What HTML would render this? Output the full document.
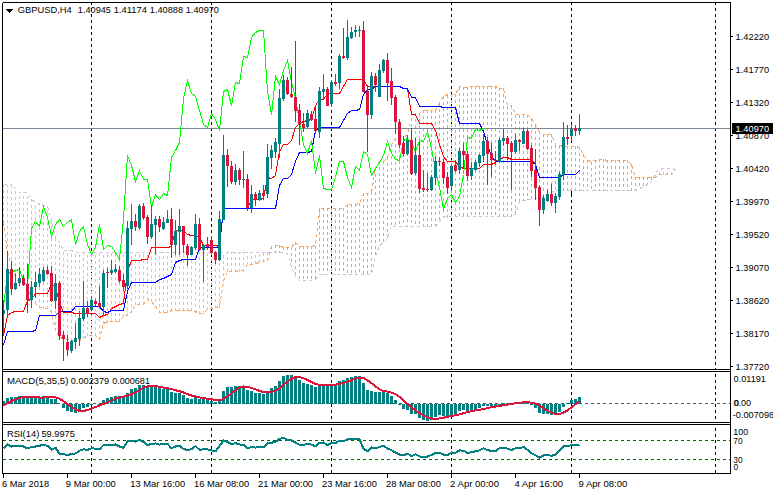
<!DOCTYPE html><html><head><meta charset="utf-8"><style>html,body{margin:0;padding:0;background:#fff;overflow:hidden}</style></head><body><svg width="773" height="495" viewBox="0 0 773 495" style="display:block;font-family:'Liberation Sans',sans-serif">
<rect width="773" height="495" fill="#fff"/>
<defs><clipPath id="cm"><rect x="3" y="3" width="727" height="366"/></clipPath><clipPath id="c2"><rect x="3" y="372" width="727" height="50"/></clipPath><clipPath id="c3"><rect x="3" y="425" width="727" height="48"/></clipPath></defs>
<line x1="91.5" y1="2" x2="91.5" y2="473" stroke="#000" stroke-width="1" stroke-dasharray="3,3" shape-rendering="crispEdges"/>
<line x1="211.5" y1="2" x2="211.5" y2="473" stroke="#000" stroke-width="1" stroke-dasharray="3,3" shape-rendering="crispEdges"/>
<line x1="331.5" y1="2" x2="331.5" y2="473" stroke="#000" stroke-width="1" stroke-dasharray="3,3" shape-rendering="crispEdges"/>
<line x1="451.5" y1="2" x2="451.5" y2="473" stroke="#000" stroke-width="1" stroke-dasharray="3,3" shape-rendering="crispEdges"/>
<line x1="571.5" y1="2" x2="571.5" y2="473" stroke="#000" stroke-width="1" stroke-dasharray="3,3" shape-rendering="crispEdges"/>
<line x1="715.5" y1="2" x2="715.5" y2="473" stroke="#000" stroke-width="1" stroke-dasharray="3,3" shape-rendering="crispEdges"/>
<rect x="3" y="370" width="727" height="1" fill="#fff"/><rect x="3" y="423" width="727" height="1" fill="#fff"/>
<g clip-path="url(#cm)">
<path d="M271.5,246v3M271.5,252v1M275.5,245v3M275.5,251v2M279.5,245v3M279.5,251v2M283.5,247v3M287.5,247v3M287.5,253v1M291.5,247v3M291.5,253v3M291.5,259v3M291.5,265v2M295.5,242v3M295.5,248v3M295.5,254v3M295.5,260v3M295.5,266v3M295.5,272v3M299.5,246v3M299.5,252v3M299.5,258v3M299.5,264v3M299.5,270v3M299.5,276v3M303.5,246v3M303.5,252v3M303.5,258v3M303.5,264v3M303.5,270v3M303.5,276v3M307.5,246v3M307.5,252v3M307.5,258v3M307.5,264v3M307.5,270v3M307.5,276v3M311.5,246v3M311.5,252v3M311.5,258v3M311.5,264v3M311.5,270v3M311.5,276v3M315.5,246v3M315.5,252v3M315.5,258v3M315.5,264v3M315.5,270v3M315.5,276v3M319.5,208v3M319.5,214v3M319.5,220v3M319.5,226v3M319.5,232v3M319.5,238v3M319.5,244v3M319.5,250v3M319.5,256v3M319.5,262v3M319.5,268v3M319.5,274v1M323.5,208v3M323.5,214v3M323.5,220v3M323.5,226v3M323.5,232v3M323.5,238v3M323.5,244v3M323.5,250v3M323.5,256v3M323.5,262v3M323.5,268v3M323.5,274v1M327.5,208v3M327.5,214v3M327.5,220v3M327.5,226v3M327.5,232v3M327.5,238v3M327.5,244v3M327.5,250v3M327.5,256v3M327.5,262v3M327.5,268v3M327.5,274v1M331.5,208v3M331.5,214v3M331.5,220v3M331.5,226v3M331.5,232v3M331.5,238v3M331.5,244v3M331.5,250v3M331.5,256v3M331.5,262v3M331.5,268v3M331.5,274v1M335.5,208v3M335.5,214v3M335.5,220v3M335.5,226v3M335.5,232v3M335.5,238v3M335.5,244v3M335.5,250v3M335.5,256v3M335.5,262v3M335.5,268v3M335.5,274v1M339.5,208v3M339.5,214v3M339.5,220v3M339.5,226v3M339.5,232v3M339.5,238v3M339.5,244v3M339.5,250v3M339.5,256v3M339.5,262v3M339.5,268v3M339.5,274v1M343.5,208v3M343.5,214v3M343.5,220v3M343.5,226v3M343.5,232v3M343.5,238v3M343.5,244v3M343.5,250v3M343.5,256v3M343.5,262v3M343.5,268v3M343.5,274v1M347.5,204v3M347.5,210v3M347.5,216v3M347.5,222v3M347.5,228v3M347.5,234v3M347.5,240v3M347.5,246v3M347.5,252v3M347.5,258v3M347.5,264v3M347.5,270v3M351.5,204v3M351.5,210v3M351.5,216v3M351.5,222v3M351.5,228v3M351.5,234v3M351.5,240v3M351.5,246v3M351.5,252v3M351.5,258v3M351.5,264v3M351.5,270v3M355.5,204v3M355.5,210v3M355.5,216v3M355.5,222v3M355.5,228v3M355.5,234v3M355.5,240v3M355.5,246v3M355.5,252v3M355.5,258v3M355.5,264v3M355.5,270v3M359.5,203v3M359.5,209v3M359.5,215v3M359.5,221v3M359.5,227v3M359.5,233v3M359.5,239v3M359.5,245v3M359.5,251v3M359.5,257v3M359.5,263v3M359.5,269v3M363.5,193v3M363.5,199v3M363.5,205v3M363.5,211v3M363.5,217v3M363.5,223v3M363.5,229v3M363.5,235v3M363.5,241v3M363.5,247v3M363.5,253v3M363.5,259v3M363.5,265v3M363.5,271v3M367.5,193v3M367.5,199v3M367.5,205v3M367.5,211v3M367.5,217v3M367.5,223v3M367.5,229v3M367.5,235v3M367.5,241v3M367.5,247v3M367.5,253v3M367.5,259v3M367.5,265v3M367.5,271v3M371.5,192v3M371.5,198v3M371.5,204v3M371.5,210v3M371.5,216v3M371.5,222v3M371.5,228v3M371.5,234v3M371.5,240v3M371.5,246v3M371.5,252v3M371.5,258v3M371.5,264v3M371.5,270v3M375.5,168v3M375.5,174v3M375.5,180v3M375.5,186v3M375.5,192v3M375.5,198v3M375.5,204v3M375.5,210v3M375.5,216v3M375.5,222v3M375.5,228v3M375.5,234v3M375.5,240v3M375.5,246v3M375.5,252v3M379.5,161v3M379.5,167v3M379.5,173v3M379.5,179v3M379.5,185v3M379.5,191v3M379.5,197v3M379.5,203v3M379.5,209v3M379.5,215v3M379.5,221v3M379.5,227v3M379.5,233v3M379.5,239v3M379.5,245v1M383.5,161v3M383.5,167v3M383.5,173v3M383.5,179v3M383.5,185v3M383.5,191v3M383.5,197v3M383.5,203v3M383.5,209v3M383.5,215v3M383.5,221v3M383.5,227v3M383.5,233v3M383.5,239v3M387.5,157v3M387.5,163v3M387.5,169v3M387.5,175v3M387.5,181v3M387.5,187v3M387.5,193v3M387.5,199v3M387.5,205v3M387.5,211v3M387.5,217v3M387.5,223v3M387.5,229v3M387.5,235v3M391.5,144v3M391.5,150v3M391.5,156v3M391.5,162v3M391.5,168v3M391.5,174v3M391.5,180v3M391.5,186v3M391.5,192v3M391.5,198v3M391.5,204v3M391.5,210v3M391.5,216v3M391.5,222v3M395.5,138v3M395.5,144v3M395.5,150v3M395.5,156v3M395.5,162v3M395.5,168v3M395.5,174v3M395.5,180v3M395.5,186v3M395.5,192v3M395.5,198v3M395.5,204v3M395.5,210v3M395.5,216v3M395.5,222v3M399.5,137v3M399.5,143v3M399.5,149v3M399.5,155v3M399.5,161v3M399.5,167v3M399.5,173v3M399.5,179v3M399.5,185v3M399.5,191v3M399.5,197v3M399.5,203v3M399.5,209v3M399.5,215v3M399.5,221v3M403.5,136v3M403.5,142v3M403.5,148v3M403.5,154v3M403.5,160v3M403.5,166v3M403.5,172v3M403.5,178v3M403.5,184v3M403.5,190v3M403.5,196v3M403.5,202v3M403.5,208v3M403.5,214v3M403.5,220v3M403.5,226v1M407.5,135v3M407.5,141v3M407.5,147v3M407.5,153v3M407.5,159v3M407.5,165v3M407.5,171v3M407.5,177v3M407.5,183v3M407.5,189v3M407.5,195v3M407.5,201v3M407.5,207v3M407.5,213v3M407.5,219v3M407.5,225v2M411.5,118v3M411.5,124v3M411.5,130v3M411.5,136v3M411.5,142v3M411.5,148v3M411.5,154v3M411.5,160v3M411.5,166v3M411.5,172v3M411.5,178v3M411.5,184v3M411.5,190v3M411.5,196v3M411.5,202v3M411.5,208v3M411.5,214v3M411.5,220v3M411.5,226v1M415.5,113v3M415.5,119v3M415.5,125v3M415.5,131v3M415.5,137v3M415.5,143v3M415.5,149v3M415.5,155v3M415.5,161v3M415.5,167v3M415.5,173v3M415.5,179v3M415.5,185v3M415.5,191v3M415.5,197v3M415.5,203v3M415.5,209v3M415.5,215v3M415.5,221v3M419.5,113v3M419.5,119v3M419.5,125v3M419.5,131v3M419.5,137v3M419.5,143v3M419.5,149v3M419.5,155v3M419.5,161v3M419.5,167v3M419.5,173v3M419.5,179v3M419.5,185v3M419.5,191v3M419.5,197v3M419.5,203v3M419.5,209v3M419.5,215v3M419.5,221v3M423.5,110v3M423.5,116v3M423.5,122v3M423.5,128v3M423.5,134v3M423.5,140v3M423.5,146v3M423.5,152v3M423.5,158v3M423.5,164v3M423.5,170v3M423.5,176v3M423.5,182v3M423.5,188v3M423.5,194v3M423.5,200v3M423.5,206v3M423.5,212v3M423.5,218v3M423.5,224v3M427.5,110v3M427.5,116v3M427.5,122v3M427.5,128v3M427.5,134v3M427.5,140v3M427.5,146v3M427.5,152v3M427.5,158v3M427.5,164v3M427.5,170v3M427.5,176v3M427.5,182v3M427.5,188v3M427.5,194v3M427.5,200v3M427.5,206v3M427.5,212v3M427.5,218v3M427.5,224v3M431.5,110v3M431.5,116v3M431.5,122v3M431.5,128v3M431.5,134v3M431.5,140v3M431.5,146v3M431.5,152v3M431.5,158v3M431.5,164v3M431.5,170v3M431.5,176v3M431.5,182v3M431.5,188v3M431.5,194v3M431.5,200v3M431.5,206v3M431.5,212v3M431.5,218v3M431.5,224v3M435.5,110v3M435.5,116v3M435.5,122v3M435.5,128v3M435.5,134v3M435.5,140v3M435.5,146v3M435.5,152v3M435.5,158v3M435.5,164v3M435.5,170v3M435.5,176v3M435.5,182v3M435.5,188v3M435.5,194v3M435.5,200v3M435.5,206v3M435.5,212v3M435.5,218v3M435.5,224v3M439.5,103v3M439.5,109v3M439.5,115v3M439.5,121v3M439.5,127v3M439.5,133v3M439.5,139v3M439.5,145v3M439.5,151v3M439.5,157v3M439.5,163v3M439.5,169v3M439.5,175v3M439.5,181v3M439.5,187v3M439.5,193v3M439.5,199v3M439.5,205v3M439.5,211v3M439.5,217v3M443.5,96v3M443.5,102v3M443.5,108v3M443.5,114v3M443.5,120v3M443.5,126v3M443.5,132v3M443.5,138v3M443.5,144v3M443.5,150v3M443.5,156v3M443.5,162v3M443.5,168v3M443.5,174v3M443.5,180v3M443.5,186v3M443.5,192v3M443.5,198v3M443.5,204v3M443.5,210v3M443.5,216v2M447.5,95v3M447.5,101v3M447.5,107v3M447.5,113v3M447.5,119v3M447.5,125v3M447.5,131v3M447.5,137v3M447.5,143v3M447.5,149v3M447.5,155v3M447.5,161v3M447.5,167v3M447.5,173v3M447.5,179v3M447.5,185v3M447.5,191v3M447.5,197v3M447.5,203v3M447.5,209v3M447.5,215v3M451.5,94v3M451.5,100v3M451.5,106v3M451.5,112v3M451.5,118v3M451.5,124v3M451.5,130v3M451.5,136v3M451.5,142v3M451.5,148v3M451.5,154v3M451.5,160v3M451.5,166v3M451.5,172v3M451.5,178v3M451.5,184v3M451.5,190v3M451.5,196v3M451.5,202v3M451.5,208v3M451.5,214v3M455.5,94v3M455.5,100v3M455.5,106v3M455.5,112v3M455.5,118v3M455.5,124v3M455.5,130v3M455.5,136v3M455.5,142v3M455.5,148v3M455.5,154v3M455.5,160v3M455.5,166v3M455.5,172v3M455.5,178v3M455.5,184v3M455.5,190v3M455.5,196v3M455.5,202v3M455.5,208v3M455.5,214v3M459.5,87v3M459.5,93v3M459.5,99v3M459.5,105v3M459.5,111v3M459.5,117v3M459.5,123v3M459.5,129v3M459.5,135v3M459.5,141v3M459.5,147v3M459.5,153v3M459.5,159v3M459.5,165v3M459.5,171v3M459.5,177v3M459.5,183v3M459.5,189v3M459.5,195v3M459.5,201v3M459.5,207v3M459.5,213v3M463.5,87v3M463.5,93v3M463.5,99v3M463.5,105v3M463.5,111v3M463.5,117v3M463.5,123v3M463.5,129v3M463.5,135v3M463.5,141v3M463.5,147v3M463.5,153v3M463.5,159v3M463.5,165v3M463.5,171v3M463.5,177v3M463.5,183v3M463.5,189v3M463.5,195v3M463.5,201v3M463.5,207v3M463.5,213v3M467.5,87v3M467.5,93v3M467.5,99v3M467.5,105v3M467.5,111v3M467.5,117v3M467.5,123v3M467.5,129v3M467.5,135v3M467.5,141v3M467.5,147v3M467.5,153v3M467.5,159v3M467.5,165v3M467.5,171v3M467.5,177v3M467.5,183v3M467.5,189v3M467.5,195v3M467.5,201v3M467.5,207v3M467.5,213v3M471.5,86v3M471.5,92v3M471.5,98v3M471.5,104v3M471.5,110v3M471.5,116v3M471.5,122v3M471.5,128v3M471.5,134v3M471.5,140v3M471.5,146v3M471.5,152v3M471.5,158v3M471.5,164v3M471.5,170v3M471.5,176v3M471.5,182v3M471.5,188v3M471.5,194v3M471.5,200v3M471.5,206v3M471.5,212v3M475.5,86v3M475.5,92v3M475.5,98v3M475.5,104v3M475.5,110v3M475.5,116v3M475.5,122v3M475.5,128v3M475.5,134v3M475.5,140v3M475.5,146v3M475.5,152v3M475.5,158v3M475.5,164v3M475.5,170v3M475.5,176v3M475.5,182v3M475.5,188v3M475.5,194v3M475.5,200v3M475.5,206v3M475.5,212v3M479.5,86v3M479.5,92v3M479.5,98v3M479.5,104v3M479.5,110v3M479.5,116v3M479.5,122v3M479.5,128v3M479.5,134v3M479.5,140v3M479.5,146v3M479.5,152v3M479.5,158v3M479.5,164v3M479.5,170v3M479.5,176v3M479.5,182v3M479.5,188v3M479.5,194v3M479.5,200v3M479.5,206v3M479.5,212v3M483.5,86v3M483.5,92v3M483.5,98v3M483.5,104v3M483.5,110v3M483.5,116v3M483.5,122v3M483.5,128v3M483.5,134v3M483.5,140v3M483.5,146v3M483.5,152v3M483.5,158v3M483.5,164v3M483.5,170v3M483.5,176v3M483.5,182v3M483.5,188v3M483.5,194v3M483.5,200v3M483.5,206v3M483.5,212v3M487.5,86v3M487.5,92v3M487.5,98v3M487.5,104v3M487.5,110v3M487.5,116v3M487.5,122v3M487.5,128v3M487.5,134v3M487.5,140v3M487.5,146v3M487.5,152v3M487.5,158v3M487.5,164v3M487.5,170v3M487.5,176v3M487.5,182v3M487.5,188v3M487.5,194v3M487.5,200v3M487.5,206v3M487.5,212v3M491.5,86v3M491.5,92v3M491.5,98v3M491.5,104v3M491.5,110v3M491.5,116v3M491.5,122v3M491.5,128v3M491.5,134v3M491.5,140v3M491.5,146v3M491.5,152v3M491.5,158v3M491.5,164v3M491.5,170v3M491.5,176v3M491.5,182v3M491.5,188v3M491.5,194v3M491.5,200v3M491.5,206v3M491.5,212v3M495.5,86v3M495.5,92v3M495.5,98v3M495.5,104v3M495.5,110v3M495.5,116v3M495.5,122v3M495.5,128v3M495.5,134v3M495.5,140v3M495.5,146v3M495.5,152v3M495.5,158v3M495.5,164v3M495.5,170v3M495.5,176v3M495.5,182v3M495.5,188v3M495.5,194v3M495.5,200v3M495.5,206v3M495.5,212v3M499.5,88v3M499.5,94v3M499.5,100v3M499.5,106v3M499.5,112v3M499.5,118v3M499.5,124v3M499.5,130v3M499.5,136v3M499.5,142v3M499.5,148v3M499.5,154v3M499.5,160v3M499.5,166v3M499.5,172v3M499.5,178v3M499.5,184v3M499.5,190v3M499.5,196v3M499.5,202v3M499.5,208v3M499.5,214v3M503.5,88v3M503.5,94v3M503.5,100v3M503.5,106v3M503.5,112v3M503.5,118v3M503.5,124v3M503.5,130v3M503.5,136v3M503.5,142v3M503.5,148v3M503.5,154v3M503.5,160v3M503.5,166v3M503.5,172v3M503.5,178v3M503.5,184v3M503.5,190v3M503.5,196v3M503.5,202v3M503.5,208v3M503.5,214v3M507.5,106v3M507.5,112v3M507.5,118v3M507.5,124v3M507.5,130v3M507.5,136v3M507.5,142v3M507.5,148v3M507.5,154v3M507.5,160v3M507.5,166v3M507.5,172v3M507.5,178v3M507.5,184v3M507.5,190v3M507.5,196v3M507.5,202v3M507.5,208v3M507.5,214v3M511.5,106v3M511.5,112v3M511.5,118v3M511.5,124v3M511.5,130v3M511.5,136v3M511.5,142v3M511.5,148v3M511.5,154v3M511.5,160v3M511.5,166v3M511.5,172v3M511.5,178v3M511.5,184v3M511.5,190v3M511.5,196v3M511.5,202v3M511.5,208v3M511.5,214v3M515.5,115v3M515.5,121v3M515.5,127v3M515.5,133v3M515.5,139v3M515.5,145v3M515.5,151v3M515.5,157v3M515.5,163v3M515.5,169v3M515.5,175v3M515.5,181v3M515.5,187v3M515.5,193v3M515.5,199v3M515.5,205v3M515.5,211v3M519.5,115v3M519.5,121v3M519.5,127v3M519.5,133v3M519.5,139v3M519.5,145v3M519.5,151v3M519.5,157v3M519.5,163v3M519.5,169v3M519.5,175v3M519.5,181v3M519.5,187v3M519.5,193v3M519.5,199v3M523.5,115v3M523.5,121v3M523.5,127v3M523.5,133v3M523.5,139v3M523.5,145v3M523.5,151v3M523.5,157v3M523.5,163v3M523.5,169v3M523.5,175v3M523.5,181v3M523.5,187v3M523.5,193v3M523.5,199v2M527.5,115v3M527.5,121v3M527.5,127v3M527.5,133v3M527.5,139v3M527.5,145v3M527.5,151v3M527.5,157v3M527.5,163v3M527.5,169v3M527.5,175v3M527.5,181v3M527.5,187v3M527.5,193v3M527.5,199v1M531.5,118v3M531.5,124v3M531.5,130v3M531.5,136v3M531.5,142v3M531.5,148v3M531.5,154v3M531.5,160v3M531.5,166v3M531.5,172v3M531.5,178v3M531.5,184v3M531.5,190v3M531.5,196v3M535.5,125v3M535.5,131v3M535.5,137v3M535.5,143v3M535.5,149v3M535.5,155v3M535.5,161v3M535.5,167v3M535.5,173v3M535.5,179v3M535.5,185v3M535.5,191v3M535.5,197v3M539.5,131v3M539.5,137v3M539.5,143v3M539.5,149v3M539.5,155v3M539.5,161v3M539.5,167v3M539.5,173v3M539.5,179v3M539.5,185v3M539.5,191v3M539.5,197v2M543.5,134v3M543.5,140v3M543.5,146v3M543.5,152v3M543.5,158v3M543.5,164v3M543.5,170v3M543.5,176v3M543.5,182v3M543.5,188v3M543.5,194v3M547.5,134v3M547.5,140v3M547.5,146v3M547.5,152v3M547.5,158v3M547.5,164v3M547.5,170v3M547.5,176v3M547.5,182v3M547.5,188v3M547.5,194v1M551.5,134v3M551.5,140v3M551.5,146v3M551.5,152v3M551.5,158v3M551.5,164v3M551.5,170v3M551.5,176v3M551.5,182v3M551.5,188v3M555.5,145v3M555.5,151v3M555.5,157v3M555.5,163v3M555.5,169v3M555.5,175v3M555.5,181v3M555.5,187v3M559.5,146v3M559.5,152v3M559.5,158v3M559.5,164v3M559.5,170v3M559.5,176v3M559.5,182v3M559.5,188v3M563.5,146v3M563.5,152v3M563.5,158v3M563.5,164v3M563.5,170v3M563.5,176v3M563.5,182v3M563.5,188v3M567.5,146v3M567.5,152v3M567.5,158v3M567.5,164v3M567.5,170v3M567.5,176v3M567.5,182v3M567.5,188v3M571.5,146v3M571.5,152v3M571.5,158v3M571.5,164v3M571.5,170v3M571.5,176v3M571.5,182v3M571.5,188v3M575.5,146v3M575.5,152v3M575.5,158v3M575.5,164v3M575.5,170v3M575.5,176v3M575.5,182v3M575.5,188v3M579.5,147v3M579.5,153v3M579.5,159v3M579.5,165v3M579.5,171v3M579.5,177v3M579.5,183v3M579.5,189v2M583.5,154v3M583.5,160v3M583.5,166v3M583.5,172v3M583.5,178v3M583.5,184v3M583.5,190v1M587.5,160v3M587.5,166v3M587.5,172v3M587.5,178v3M587.5,184v3M587.5,190v1M591.5,162v3M591.5,168v3M591.5,174v3M591.5,180v3M591.5,186v3M595.5,160v3M595.5,166v3M595.5,172v3M595.5,178v3M595.5,184v3M595.5,190v1M599.5,159v3M599.5,165v3M599.5,171v3M599.5,177v3M599.5,183v3M599.5,189v2M603.5,159v3M603.5,165v3M603.5,171v3M603.5,177v3M603.5,183v3M603.5,189v2M607.5,160v3M607.5,166v3M607.5,172v3M607.5,178v3M607.5,184v3M607.5,190v1M611.5,160v3M611.5,166v3M611.5,172v3M611.5,178v3M611.5,184v3M611.5,190v1M615.5,160v3M615.5,166v3M615.5,172v3M615.5,178v3M615.5,184v3M615.5,190v1M619.5,160v3M619.5,166v3M619.5,172v3M619.5,178v3M619.5,184v3M619.5,190v1M623.5,160v3M623.5,166v3M623.5,172v3M623.5,178v3M623.5,184v3M623.5,190v1M627.5,160v3M627.5,166v3M627.5,172v3M627.5,178v3M627.5,184v3M627.5,190v1M631.5,164v3M631.5,170v3M631.5,176v3M631.5,182v3M631.5,188v3M635.5,177v3M635.5,183v3M635.5,189v2M639.5,177v3M639.5,183v3M643.5,177v3M643.5,183v3M647.5,177v3M647.5,183v2M651.5,177v3" fill="none" stroke="#f4a460" stroke-width="1" shape-rendering="crispEdges"/>
<path d="M3.5,220v3M3.5,214v3M3.5,208v3M3.5,202v3M3.5,196v3M3.5,190v3M3.5,185v2M7.5,250v3M7.5,244v3M7.5,238v3M7.5,232v3M7.5,226v3M7.5,220v3M7.5,214v3M7.5,208v3M7.5,202v3M7.5,196v3M7.5,190v3M7.5,185v2M11.5,263v3M11.5,257v3M11.5,251v3M11.5,245v3M11.5,239v3M11.5,233v3M11.5,227v3M11.5,221v3M11.5,215v3M11.5,209v3M11.5,203v3M11.5,197v3M11.5,191v3M11.5,185v3M15.5,275v3M15.5,269v3M15.5,263v3M15.5,257v3M15.5,251v3M15.5,245v3M15.5,239v3M15.5,233v3M15.5,227v3M15.5,221v3M15.5,215v3M15.5,209v3M15.5,203v3M15.5,197v3M15.5,191v3M19.5,280v3M19.5,274v3M19.5,268v3M19.5,262v3M19.5,256v3M19.5,250v3M19.5,244v3M19.5,238v3M19.5,232v3M19.5,226v3M19.5,220v3M19.5,214v3M19.5,208v3M19.5,202v3M19.5,196v3M19.5,192v1M23.5,280v3M23.5,274v3M23.5,268v3M23.5,262v3M23.5,256v3M23.5,250v3M23.5,244v3M23.5,238v3M23.5,232v3M23.5,226v3M23.5,220v3M23.5,214v3M23.5,208v3M23.5,202v3M23.5,196v3M23.5,192v1M27.5,286v3M27.5,280v3M27.5,274v3M27.5,268v3M27.5,262v3M27.5,256v3M27.5,250v3M27.5,244v3M27.5,238v3M27.5,232v3M27.5,226v3M27.5,220v3M27.5,214v3M27.5,208v3M27.5,202v3M27.5,196v3M31.5,295v3M31.5,289v3M31.5,283v3M31.5,277v3M31.5,271v3M31.5,265v3M31.5,259v3M31.5,253v3M31.5,247v3M31.5,241v3M31.5,235v3M31.5,229v3M31.5,223v3M31.5,217v3M31.5,211v3M31.5,205v3M31.5,199v3M35.5,301v3M35.5,295v3M35.5,289v3M35.5,283v3M35.5,277v3M35.5,271v3M35.5,265v3M35.5,259v3M35.5,253v3M35.5,247v3M35.5,241v3M35.5,235v3M35.5,229v3M35.5,223v3M35.5,217v3M35.5,211v3M35.5,205v3M39.5,305v3M39.5,299v3M39.5,293v3M39.5,287v3M39.5,281v3M39.5,275v3M39.5,269v3M39.5,263v3M39.5,257v3M39.5,251v3M39.5,245v3M39.5,239v3M39.5,233v3M39.5,227v3M39.5,221v3M39.5,215v3M39.5,209v3M39.5,204v2M43.5,306v3M43.5,300v3M43.5,294v3M43.5,288v3M43.5,282v3M43.5,276v3M43.5,270v3M43.5,264v3M43.5,258v3M43.5,252v3M43.5,246v3M43.5,240v3M43.5,234v3M43.5,228v3M43.5,222v3M43.5,216v3M43.5,210v3M43.5,206v1M47.5,306v3M47.5,300v3M47.5,294v3M47.5,288v3M47.5,282v3M47.5,276v3M47.5,270v3M47.5,264v3M47.5,258v3M47.5,252v3M47.5,246v3M47.5,240v3M47.5,234v3M47.5,228v3M47.5,222v3M47.5,216v3M47.5,210v3M47.5,206v1M51.5,310v3M51.5,304v3M51.5,298v3M51.5,292v3M51.5,286v3M51.5,280v3M51.5,274v3M51.5,268v3M51.5,262v3M51.5,256v3M51.5,250v3M51.5,244v3M51.5,238v3M51.5,232v3M51.5,226v3M51.5,220v3M55.5,328v3M55.5,322v3M55.5,316v3M55.5,310v3M55.5,304v3M55.5,298v3M55.5,292v3M55.5,286v3M55.5,280v3M55.5,274v3M55.5,268v3M55.5,262v3M55.5,256v3M55.5,250v3M55.5,244v3M55.5,238v3M59.5,335v3M59.5,329v3M59.5,323v3M59.5,317v3M59.5,311v3M59.5,305v3M59.5,299v3M59.5,293v3M59.5,287v3M59.5,281v3M59.5,275v3M59.5,269v3M59.5,263v3M59.5,257v3M59.5,251v3M59.5,245v3M63.5,336v3M63.5,330v3M63.5,324v3M63.5,318v3M63.5,312v3M63.5,306v3M63.5,300v3M63.5,294v3M63.5,288v3M63.5,282v3M63.5,276v3M63.5,270v3M63.5,264v3M63.5,258v3M63.5,252v3M67.5,337v3M67.5,331v3M67.5,325v3M67.5,319v3M67.5,313v3M67.5,307v3M67.5,301v3M67.5,295v3M67.5,289v3M67.5,283v3M67.5,277v3M67.5,271v3M67.5,265v3M67.5,259v3M67.5,253v3M71.5,338v3M71.5,332v3M71.5,326v3M71.5,320v3M71.5,314v3M71.5,308v3M71.5,302v3M71.5,296v3M71.5,290v3M71.5,284v3M71.5,278v3M71.5,272v3M71.5,266v3M71.5,260v3M71.5,254v3M75.5,338v3M75.5,332v3M75.5,326v3M75.5,320v3M75.5,314v3M75.5,308v3M75.5,302v3M75.5,296v3M75.5,290v3M75.5,284v3M75.5,278v3M75.5,272v3M75.5,266v3M75.5,260v3M75.5,254v3M79.5,338v3M79.5,332v3M79.5,326v3M79.5,320v3M79.5,314v3M79.5,308v3M79.5,302v3M79.5,296v3M79.5,290v3M79.5,284v3M79.5,278v3M79.5,272v3M79.5,266v3M79.5,260v3M79.5,254v3M83.5,336v3M83.5,330v3M83.5,324v3M83.5,318v3M83.5,312v3M83.5,306v3M83.5,300v3M83.5,294v3M83.5,288v3M83.5,282v3M83.5,276v3M83.5,270v3M83.5,264v3M83.5,258v3M83.5,252v3M87.5,333v3M87.5,327v3M87.5,321v3M87.5,315v3M87.5,309v3M87.5,303v3M87.5,297v3M87.5,291v3M87.5,285v3M87.5,279v3M87.5,273v3M87.5,267v3M87.5,261v3M87.5,255v3M91.5,333v3M91.5,327v3M91.5,321v3M91.5,315v3M91.5,309v3M91.5,303v3M91.5,297v3M91.5,291v3M91.5,285v3M91.5,279v3M91.5,273v3M91.5,267v3M91.5,261v3M91.5,255v3M95.5,333v3M95.5,327v3M95.5,321v3M95.5,315v3M95.5,309v3M95.5,303v3M95.5,297v3M95.5,291v3M95.5,285v3M95.5,279v3M95.5,273v3M95.5,267v3M95.5,261v3M95.5,255v3M99.5,337v3M99.5,331v3M99.5,325v3M99.5,319v3M99.5,313v3M99.5,307v3M99.5,301v3M99.5,295v3M99.5,289v3M99.5,283v3M99.5,277v3M99.5,271v3M99.5,265v3M99.5,259v3M99.5,253v3M103.5,321v3M103.5,315v3M103.5,309v3M103.5,303v3M103.5,297v3M103.5,291v3M103.5,285v3M103.5,279v3M103.5,273v3M103.5,267v3M103.5,261v3M103.5,255v3M107.5,320v3M107.5,314v3M107.5,308v3M107.5,302v3M107.5,296v3M107.5,290v3M107.5,284v3M107.5,278v3M107.5,272v3M107.5,266v3M107.5,260v3M107.5,254v3M111.5,319v3M111.5,313v3M111.5,307v3M111.5,301v3M111.5,295v3M111.5,289v3M111.5,283v3M111.5,277v3M111.5,271v3M111.5,265v3M111.5,259v3M111.5,253v3M115.5,319v3M115.5,313v3M115.5,307v3M115.5,301v3M115.5,295v3M115.5,289v3M115.5,283v3M115.5,277v3M115.5,271v3M115.5,265v3M115.5,259v3M115.5,253v3M119.5,319v3M119.5,313v3M119.5,307v3M119.5,301v3M119.5,295v3M119.5,289v3M119.5,283v3M119.5,277v3M119.5,271v3M119.5,265v3M119.5,259v3M119.5,253v3M123.5,314v3M123.5,308v3M123.5,302v3M123.5,296v3M123.5,290v3M123.5,284v3M123.5,278v3M123.5,272v3M123.5,266v3M123.5,260v3M123.5,254v3M127.5,313v3M127.5,307v3M127.5,301v3M127.5,295v3M127.5,289v3M127.5,283v3M127.5,277v3M127.5,271v3M127.5,265v3M127.5,259v3M127.5,253v3M131.5,310v3M131.5,304v3M131.5,298v3M131.5,292v3M131.5,286v3M131.5,280v3M131.5,274v3M131.5,268v3M131.5,262v3M131.5,256v3M131.5,252v1M135.5,302v3M135.5,296v3M135.5,290v3M135.5,284v3M135.5,278v3M135.5,272v3M135.5,266v3M135.5,260v3M135.5,254v3M139.5,302v3M139.5,296v3M139.5,290v3M139.5,284v3M139.5,278v3M139.5,272v3M139.5,266v3M139.5,260v3M139.5,254v3M143.5,302v3M143.5,296v3M143.5,290v3M143.5,284v3M143.5,278v3M143.5,272v3M143.5,266v3M143.5,260v3M143.5,254v3M147.5,297v3M147.5,291v3M147.5,285v3M147.5,279v3M147.5,273v3M147.5,267v3M147.5,261v3M147.5,255v3M151.5,299v3M151.5,293v3M151.5,287v3M151.5,281v3M151.5,275v3M151.5,269v3M151.5,263v3M151.5,257v3M151.5,252v2M155.5,305v3M155.5,299v3M155.5,293v3M155.5,287v3M155.5,281v3M155.5,275v3M155.5,269v3M155.5,263v3M155.5,257v3M155.5,252v2M159.5,310v3M159.5,304v3M159.5,298v3M159.5,292v3M159.5,286v3M159.5,280v3M159.5,274v3M159.5,268v3M159.5,262v3M159.5,256v3M159.5,252v1M163.5,310v3M163.5,304v3M163.5,298v3M163.5,292v3M163.5,286v3M163.5,280v3M163.5,274v3M163.5,268v3M163.5,262v3M163.5,256v3M163.5,252v1M167.5,310v3M167.5,304v3M167.5,298v3M167.5,292v3M167.5,286v3M167.5,280v3M167.5,274v3M167.5,268v3M167.5,262v3M167.5,256v3M167.5,252v1M171.5,308v3M171.5,302v3M171.5,296v3M171.5,290v3M171.5,284v3M171.5,278v3M171.5,272v3M171.5,266v3M171.5,260v3M171.5,254v3M175.5,308v3M175.5,302v3M175.5,296v3M175.5,290v3M175.5,284v3M175.5,278v3M175.5,272v3M175.5,266v3M175.5,260v3M175.5,254v3M179.5,308v3M179.5,302v3M179.5,296v3M179.5,290v3M179.5,284v3M179.5,278v3M179.5,272v3M179.5,266v3M179.5,260v3M179.5,254v3M183.5,308v3M183.5,302v3M183.5,296v3M183.5,290v3M183.5,284v3M183.5,278v3M183.5,272v3M183.5,266v3M183.5,260v3M183.5,254v3M187.5,308v3M187.5,302v3M187.5,296v3M187.5,290v3M187.5,284v3M187.5,278v3M187.5,272v3M187.5,266v3M187.5,260v3M187.5,254v3M191.5,308v3M191.5,302v3M191.5,296v3M191.5,290v3M191.5,284v3M191.5,278v3M191.5,272v3M191.5,266v3M191.5,260v3M191.5,254v3M195.5,310v3M195.5,304v3M195.5,298v3M195.5,292v3M195.5,286v3M195.5,280v3M195.5,274v3M195.5,268v3M195.5,262v3M195.5,256v3M195.5,252v1M199.5,311v3M199.5,305v3M199.5,299v3M199.5,293v3M199.5,287v3M199.5,281v3M199.5,275v3M199.5,269v3M199.5,263v3M199.5,257v3M199.5,252v2M203.5,311v3M203.5,305v3M203.5,299v3M203.5,293v3M203.5,287v3M203.5,281v3M203.5,275v3M203.5,269v3M203.5,263v3M203.5,257v3M203.5,252v2M207.5,307v3M207.5,301v3M207.5,295v3M207.5,289v3M207.5,283v3M207.5,277v3M207.5,271v3M207.5,265v3M207.5,259v3M207.5,253v3M211.5,306v3M211.5,300v3M211.5,294v3M211.5,288v3M211.5,282v3M211.5,276v3M211.5,270v3M211.5,264v3M211.5,258v3M211.5,252v3M215.5,305v3M215.5,299v3M215.5,293v3M215.5,287v3M215.5,281v3M215.5,275v3M215.5,269v3M215.5,263v3M215.5,257v3M215.5,252v2M219.5,305v3M219.5,299v3M219.5,293v3M219.5,287v3M219.5,281v3M219.5,275v3M219.5,269v3M219.5,263v3M219.5,257v3M219.5,252v2M223.5,279v3M223.5,273v3M223.5,267v3M223.5,261v3M223.5,255v3M227.5,269v3M227.5,263v3M227.5,257v3M227.5,252v2M231.5,269v3M231.5,263v3M231.5,257v3M231.5,252v2M235.5,269v3M235.5,263v3M235.5,257v3M235.5,252v2M239.5,269v3M239.5,263v3M239.5,257v3M239.5,252v2M243.5,269v3M243.5,263v3M243.5,257v3M243.5,252v2M247.5,262v3M247.5,256v3M247.5,252v1M251.5,262v3M251.5,256v3M251.5,252v1M255.5,261v3M255.5,255v3M259.5,260v3M259.5,254v3M263.5,259v3M263.5,253v3M267.5,258v3M267.5,252v3M655.5,175v3M659.5,172v3M663.5,172v3M667.5,172v3M671.5,172v3M675.5,169v2" fill="none" stroke="#d8bfd8" stroke-width="1" shape-rendering="crispEdges"/>
<polyline points="3.5,222.5 7.5,252.5 11.5,265.5 15.5,277.5 19.5,282.5 23.5,282.5 27.5,288.5 31.5,297.5 35.5,303.5 39.5,307.5 43.5,308.5 47.5,308.5 51.5,312.5 55.5,330.5 59.5,337.5 63.5,338.5 67.5,339.5 71.5,340.5 75.5,340.5 79.5,340.5 83.5,338.5 87.5,335.5 91.5,335.5 95.5,335.5 99.5,339.5 103.5,323.5 107.5,321.5 111.5,321.5 115.5,321.5 119.5,321.5 123.5,315.5 127.5,315.5 131.5,311.5 135.5,304.5 139.5,304.5 143.5,304.5 147.5,299.5 151.5,301.5 155.5,306.5 159.5,312.5 163.5,312.5 167.5,312.5 171.5,310.5 175.5,310.5 179.5,310.5 183.5,310.5 187.5,310.5 191.5,310.5 195.5,311.5 199.5,313.5 203.5,313.5 207.5,309.5 211.5,308.5 215.5,307.5 219.5,306.5 223.5,281.5 227.5,271.5 231.5,271.5 235.5,271.5 239.5,270.5 243.5,270.5 247.5,264.5 251.5,264.5 255.5,263.5 259.5,262.5 263.5,261.5 267.5,260.5 271.5,246.5 275.5,245.5 279.5,245.5 283.5,247.5 287.5,247.5 291.5,247.5 295.5,242.5 299.5,246.5 303.5,246.5 307.5,246.5 311.5,246.5 315.5,245.5 319.5,208.5 323.5,208.5 327.5,208.5 331.5,208.5 335.5,208.5 339.5,208.5 343.5,208.5 347.5,204.5 351.5,204.5 355.5,204.5 359.5,203.5 363.5,193.5 367.5,193.5 371.5,192.5 375.5,168.5 379.5,161.5 383.5,161.5 387.5,157.5 391.5,144.5 395.5,138.5 399.5,136.5 403.5,136.5 407.5,135.5 411.5,117.5 415.5,113.5 419.5,113.5 423.5,110.5 427.5,110.5 431.5,110.5 435.5,110.5 439.5,103.5 443.5,96.5 447.5,94.5 451.5,94.5 455.5,94.5 459.5,86.5 463.5,87.5 467.5,87.5 471.5,86.5 475.5,86.5 479.5,86.5 483.5,86.5 487.5,86.5 491.5,86.5 495.5,86.5 499.5,88.5 503.5,88.5 507.5,105.5 511.5,105.5 515.5,114.5 519.5,114.5 523.5,114.5 527.5,114.5 531.5,118.5 535.5,125.5 539.5,131.5 543.5,134.5 547.5,134.5 551.5,134.5 555.5,144.5 559.5,145.5 563.5,146.5 567.5,146.5 571.5,146.5 575.5,146.5 579.5,147.5 583.5,154.5 587.5,160.5 591.5,161.5 595.5,160.5 599.5,159.5 603.5,159.5 607.5,160.5 611.5,160.5 615.5,160.5 619.5,160.5 623.5,160.5 627.5,160.5 631.5,164.5 635.5,177.5 639.5,177.5 643.5,177.5 647.5,177.5 651.5,177.5 655.5,177.5 659.5,174.5 663.5,174.5 667.5,174.5 671.5,174.5 675.5,170.5" fill="none" stroke="#f4a460" stroke-width="1" stroke-dasharray="3,3" shape-rendering="crispEdges"/>
<polyline points="3.5,184.5 7.5,184.5 11.5,184.5 15.5,188.5 19.5,192.5 23.5,192.5 27.5,192.5 31.5,198.5 35.5,203.5 39.5,203.5 43.5,205.5 47.5,206.5 51.5,219.5 55.5,238.5 59.5,242.5 63.5,250.5 67.5,250.5 71.5,250.5 75.5,252.5 79.5,252.5 83.5,252.5 87.5,252.5 91.5,252.5 95.5,252.5 99.5,252.5 103.5,252.5 107.5,252.5 111.5,252.5 115.5,252.5 119.5,252.5 123.5,252.5 127.5,252.5 131.5,252.5 135.5,252.5 139.5,252.5 143.5,252.5 147.5,252.5 151.5,252.5 155.5,252.5 159.5,252.5 163.5,252.5 167.5,252.5 171.5,252.5 175.5,252.5 179.5,252.5 183.5,252.5 187.5,252.5 191.5,252.5 195.5,252.5 199.5,252.5 203.5,252.5 207.5,252.5 211.5,252.5 215.5,252.5 219.5,252.5 223.5,252.5 227.5,252.5 231.5,252.5 235.5,252.5 239.5,252.5 243.5,252.5 247.5,252.5 251.5,252.5 255.5,252.5 259.5,252.5 263.5,252.5 267.5,252.5 271.5,252.5 275.5,252.5 279.5,252.5 283.5,252.5 287.5,253.5 291.5,266.5 295.5,277.5 299.5,280.5 303.5,280.5 307.5,280.5 311.5,280.5 315.5,279.5 319.5,274.5 323.5,274.5 327.5,274.5 331.5,274.5 335.5,274.5 339.5,274.5 343.5,274.5 347.5,274.5 351.5,274.5 355.5,274.5 359.5,274.5 363.5,274.5 367.5,274.5 371.5,274.5 375.5,256.5 379.5,245.5 383.5,242.5 387.5,238.5 391.5,226.5 395.5,226.5 399.5,226.5 403.5,226.5 407.5,226.5 411.5,226.5 415.5,226.5 419.5,226.5 423.5,226.5 427.5,226.5 431.5,226.5 435.5,226.5 439.5,221.5 443.5,216.5 447.5,216.5 451.5,216.5 455.5,216.5 459.5,216.5 463.5,216.5 467.5,216.5 471.5,216.5 475.5,216.5 479.5,216.5 483.5,216.5 487.5,216.5 491.5,216.5 495.5,216.5 499.5,216.5 503.5,216.5 507.5,216.5 511.5,216.5 515.5,214.5 519.5,201.5 523.5,200.5 527.5,199.5 531.5,199.5 535.5,198.5 539.5,198.5 543.5,196.5 547.5,194.5 551.5,192.5 555.5,190.5 559.5,190.5 563.5,190.5 567.5,190.5 571.5,190.5 575.5,190.5 579.5,190.5 583.5,190.5 587.5,190.5 591.5,190.5 595.5,190.5 599.5,190.5 603.5,190.5 607.5,190.5 611.5,190.5 615.5,190.5 619.5,190.5 623.5,190.5 627.5,190.5 631.5,190.5 635.5,190.5 639.5,188.5 643.5,186.5 647.5,184.5 651.5,182.5 655.5,172.5 659.5,169.5 663.5,168.5 667.5,168.5 671.5,168.5 675.5,169.5" fill="none" stroke="#d8bfd8" stroke-width="1" stroke-dasharray="3,3" shape-rendering="crispEdges"/>
<rect x="571" y="191" width="1" height="3" fill="#000" shape-rendering="crispEdges"/>
<line x1="3" y1="128.5" x2="730" y2="128.5" stroke="#778899" stroke-width="1" shape-rendering="crispEdges"/>
<polyline points="3.5,335.5 7.5,315.5 11.5,312.5 15.5,311.5 19.5,311.5 23.5,311.5 27.5,300.5 31.5,299.5 35.5,293.5 39.5,293.5 43.5,293.5 47.5,293.5 51.5,283.5 55.5,287.5 59.5,302.5 63.5,312.5 67.5,312.5 71.5,312.5 75.5,313.5 79.5,313.5 83.5,313.5 87.5,313.5 91.5,313.5 95.5,313.5 99.5,317.5 103.5,315.5 107.5,314.5 111.5,308.5 115.5,306.5 119.5,304.5 123.5,303.5 127.5,271.5 131.5,260.5 135.5,260.5 139.5,260.5 143.5,259.5 147.5,259.5 151.5,247.5 155.5,247.5 159.5,247.5 163.5,247.5 167.5,247.5 171.5,246.5 175.5,230.5 179.5,230.5 183.5,230.5 187.5,234.5 191.5,235.5 195.5,235.5 199.5,237.5 203.5,245.5 207.5,245.5 211.5,245.5 215.5,245.5 219.5,245.5 223.5,208.5 227.5,208.5 231.5,208.5 235.5,208.5 239.5,208.5 243.5,208.5 247.5,208.5 251.5,199.5 255.5,199.5 259.5,199.5 263.5,198.5 267.5,177.5 271.5,178.5 275.5,175.5 279.5,151.5 283.5,144.5 287.5,144.5 291.5,140.5 295.5,127.5 299.5,123.5 303.5,121.5 307.5,120.5 311.5,119.5 315.5,105.5 319.5,99.5 323.5,99.5 327.5,93.5 331.5,93.5 335.5,93.5 339.5,93.5 343.5,86.5 347.5,79.5 351.5,79.5 355.5,79.5 359.5,79.5 363.5,79.5 367.5,86.5 371.5,86.5 375.5,86.5 379.5,86.5 383.5,86.5 387.5,86.5 391.5,86.5 395.5,86.5 399.5,86.5 403.5,88.5 407.5,88.5 411.5,114.5 415.5,114.5 419.5,123.5 423.5,123.5 427.5,123.5 431.5,123.5 435.5,130.5 439.5,144.5 443.5,156.5 447.5,161.5 451.5,161.5 455.5,161.5 459.5,166.5 463.5,168.5 467.5,168.5 471.5,168.5 475.5,168.5 479.5,168.5 483.5,164.5 487.5,164.5 491.5,164.5 495.5,162.5 499.5,159.5 503.5,157.5 507.5,157.5 511.5,159.5 515.5,159.5 519.5,159.5 523.5,159.5 527.5,159.5 531.5,159.5 535.5,164.5 539.5,177.5 543.5,177.5 547.5,177.5 551.5,177.5 555.5,177.5 559.5,177.5 563.5,174.5 567.5,174.5 571.5,174.5 575.5,174.5 579.5,170.5" fill="none" stroke="#ff0000" stroke-width="1" stroke-linecap="square" shape-rendering="crispEdges"/>
<polyline points="3.5,344.5 7.5,331.5 11.5,331.5 15.5,331.5 19.5,331.5 23.5,331.5 27.5,331.5 31.5,331.5 35.5,330.5 39.5,315.5 43.5,315.5 47.5,315.5 51.5,315.5 55.5,315.5 59.5,311.5 63.5,311.5 67.5,311.5 71.5,311.5 75.5,306.5 79.5,306.5 83.5,306.5 87.5,306.5 91.5,306.5 95.5,306.5 99.5,306.5 103.5,311.5 107.5,312.5 111.5,310.5 115.5,310.5 119.5,310.5 123.5,310.5 127.5,291.5 131.5,282.5 135.5,282.5 139.5,282.5 143.5,282.5 147.5,282.5 151.5,282.5 155.5,282.5 159.5,279.5 163.5,278.5 167.5,276.5 171.5,274.5 175.5,262.5 179.5,260.5 183.5,259.5 187.5,259.5 191.5,259.5 195.5,259.5 199.5,247.5 203.5,247.5 207.5,247.5 211.5,247.5 215.5,247.5 219.5,246.5 223.5,208.5 227.5,208.5 231.5,208.5 235.5,208.5 239.5,208.5 243.5,208.5 247.5,208.5 251.5,208.5 255.5,208.5 259.5,208.5 263.5,208.5 267.5,208.5 271.5,208.5 275.5,208.5 279.5,185.5 283.5,178.5 287.5,178.5 291.5,174.5 295.5,161.5 299.5,152.5 303.5,152.5 307.5,152.5 311.5,151.5 315.5,130.5 319.5,127.5 323.5,127.5 327.5,127.5 331.5,127.5 335.5,127.5 339.5,127.5 343.5,120.5 347.5,113.5 351.5,110.5 355.5,110.5 359.5,109.5 363.5,94.5 367.5,89.5 371.5,89.5 375.5,86.5 379.5,86.5 383.5,86.5 387.5,86.5 391.5,86.5 395.5,86.5 399.5,86.5 403.5,88.5 407.5,88.5 411.5,97.5 415.5,97.5 419.5,106.5 423.5,106.5 427.5,106.5 431.5,106.5 435.5,106.5 439.5,106.5 443.5,107.5 447.5,107.5 451.5,107.5 455.5,107.5 459.5,123.5 463.5,123.5 467.5,123.5 471.5,123.5 475.5,123.5 479.5,123.5 483.5,131.5 487.5,144.5 491.5,156.5 495.5,161.5 499.5,161.5 503.5,161.5 507.5,161.5 511.5,161.5 515.5,161.5 519.5,161.5 523.5,161.5 527.5,161.5 531.5,161.5 535.5,164.5 539.5,177.5 543.5,177.5 547.5,177.5 551.5,177.5 555.5,177.5 559.5,177.5 563.5,174.5 567.5,174.5 571.5,174.5 575.5,174.5 579.5,170.5" fill="none" stroke="#0000ff" stroke-width="1" stroke-linecap="square" shape-rendering="crispEdges"/>
<polyline points="3.5,306.5 7.5,273.5 11.5,272.5 15.5,270.5 19.5,269.5 23.5,280.5 27.5,286.5 31.5,228.5 35.5,221.5 39.5,226.5 43.5,206.5 47.5,217.5 51.5,236.5 55.5,224.5 59.5,219.5 63.5,226.5 67.5,222.5 71.5,219.5 75.5,244.5 79.5,231.5 83.5,226.5 87.5,244.5 91.5,254.5 95.5,247.5 99.5,224.5 103.5,249.5 107.5,245.5 111.5,246.5 115.5,252.5 119.5,259.5 123.5,219.5 127.5,155.5 131.5,165.5 135.5,181.5 139.5,170.5 143.5,179.5 147.5,179.5 151.5,207.5 155.5,194.5 159.5,199.5 163.5,193.5 167.5,195.5 171.5,157.5 175.5,150.5 179.5,142.5 183.5,98.5 187.5,80.5 191.5,93.5 195.5,96.5 199.5,110.5 203.5,124.5 207.5,127.5 211.5,113.5 215.5,119.5 219.5,130.5 223.5,91.5 227.5,89.5 231.5,105.5 235.5,82.5 239.5,83.5 243.5,56.5 247.5,57.5 251.5,37.5 255.5,32.5 259.5,30.5 263.5,30.5 267.5,91.5 271.5,114.5 275.5,76.5 279.5,84.5 283.5,70.5 287.5,60.5 291.5,82.5 295.5,97.5 299.5,121.5 303.5,144.5 307.5,153.5 311.5,140.5 315.5,173.5 319.5,155.5 323.5,188.5 327.5,189.5 331.5,189.5 335.5,177.5 339.5,161.5 343.5,161.5 347.5,177.5 351.5,187.5 355.5,166.5 359.5,170.5 363.5,151.5 367.5,154.5 371.5,175.5 375.5,168.5 379.5,162.5 383.5,155.5 387.5,141.5 391.5,153.5 395.5,159.5 399.5,160.5 403.5,140.5 407.5,138.5 411.5,143.5 415.5,151.5 419.5,140.5 423.5,141.5 427.5,131.5 431.5,148.5 435.5,170.5 439.5,187.5 443.5,209.5 447.5,198.5 451.5,194.5 455.5,202.5 459.5,196.5 463.5,174.5 467.5,137.5 471.5,138.5 475.5,129.5 479.5,130.5 483.5,128.5" fill="none" stroke="#00ff00" stroke-width="1" stroke-linecap="square" shape-rendering="crispEdges"/>
<rect x="3" y="300" width="1" height="33" fill="#008080" shape-rendering="crispEdges"/>
<rect x="2" y="310" width="3" height="4" fill="#008080" shape-rendering="crispEdges"/>
<rect x="7" y="251" width="1" height="64" fill="#008080" shape-rendering="crispEdges"/>
<rect x="6" y="269" width="3" height="41" fill="#008080" shape-rendering="crispEdges"/>
<rect x="11" y="261" width="1" height="34" fill="#dc143c" shape-rendering="crispEdges"/>
<rect x="10" y="269" width="3" height="20" fill="#dc143c" shape-rendering="crispEdges"/>
<rect x="15" y="273" width="1" height="17" fill="#008080" shape-rendering="crispEdges"/>
<rect x="14" y="283" width="3" height="6" fill="#008080" shape-rendering="crispEdges"/>
<rect x="19" y="267" width="1" height="19" fill="#008080" shape-rendering="crispEdges"/>
<rect x="18" y="278" width="3" height="5" fill="#008080" shape-rendering="crispEdges"/>
<rect x="23" y="275" width="1" height="11" fill="#dc143c" shape-rendering="crispEdges"/>
<rect x="22" y="278" width="3" height="7" fill="#dc143c" shape-rendering="crispEdges"/>
<rect x="27" y="264" width="1" height="49" fill="#dc143c" shape-rendering="crispEdges"/>
<rect x="26" y="284" width="3" height="16" fill="#dc143c" shape-rendering="crispEdges"/>
<rect x="31" y="281" width="1" height="27" fill="#008080" shape-rendering="crispEdges"/>
<rect x="30" y="287" width="3" height="13" fill="#008080" shape-rendering="crispEdges"/>
<rect x="35" y="272" width="1" height="26" fill="#008080" shape-rendering="crispEdges"/>
<rect x="34" y="282" width="3" height="5" fill="#008080" shape-rendering="crispEdges"/>
<rect x="39" y="268" width="1" height="19" fill="#008080" shape-rendering="crispEdges"/>
<rect x="38" y="274" width="3" height="9" fill="#008080" shape-rendering="crispEdges"/>
<rect x="43" y="267" width="1" height="15" fill="#008080" shape-rendering="crispEdges"/>
<rect x="42" y="270" width="3" height="11" fill="#008080" shape-rendering="crispEdges"/>
<rect x="47" y="266" width="1" height="9" fill="#dc143c" shape-rendering="crispEdges"/>
<rect x="46" y="270" width="3" height="4" fill="#dc143c" shape-rendering="crispEdges"/>
<rect x="51" y="266" width="1" height="36" fill="#dc143c" shape-rendering="crispEdges"/>
<rect x="50" y="273" width="3" height="28" fill="#dc143c" shape-rendering="crispEdges"/>
<rect x="55" y="274" width="1" height="35" fill="#008080" shape-rendering="crispEdges"/>
<rect x="54" y="283" width="3" height="18" fill="#008080" shape-rendering="crispEdges"/>
<rect x="59" y="281" width="1" height="59" fill="#dc143c" shape-rendering="crispEdges"/>
<rect x="58" y="283" width="3" height="53" fill="#dc143c" shape-rendering="crispEdges"/>
<rect x="63" y="331" width="1" height="30" fill="#dc143c" shape-rendering="crispEdges"/>
<rect x="62" y="335" width="3" height="4" fill="#dc143c" shape-rendering="crispEdges"/>
<rect x="67" y="335" width="1" height="21" fill="#dc143c" shape-rendering="crispEdges"/>
<rect x="66" y="342" width="3" height="8" fill="#dc143c" shape-rendering="crispEdges"/>
<rect x="71" y="340" width="1" height="13" fill="#008080" shape-rendering="crispEdges"/>
<rect x="70" y="341" width="3" height="10" fill="#008080" shape-rendering="crispEdges"/>
<rect x="75" y="323" width="1" height="26" fill="#008080" shape-rendering="crispEdges"/>
<rect x="74" y="338" width="3" height="4" fill="#008080" shape-rendering="crispEdges"/>
<rect x="79" y="311" width="1" height="35" fill="#008080" shape-rendering="crispEdges"/>
<rect x="78" y="318" width="3" height="21" fill="#008080" shape-rendering="crispEdges"/>
<rect x="83" y="281" width="1" height="40" fill="#008080" shape-rendering="crispEdges"/>
<rect x="82" y="308" width="3" height="11" fill="#008080" shape-rendering="crispEdges"/>
<rect x="87" y="301" width="1" height="16" fill="#dc143c" shape-rendering="crispEdges"/>
<rect x="86" y="308" width="3" height="6" fill="#dc143c" shape-rendering="crispEdges"/>
<rect x="91" y="296" width="1" height="15" fill="#008080" shape-rendering="crispEdges"/>
<rect x="90" y="300" width="3" height="10" fill="#008080" shape-rendering="crispEdges"/>
<rect x="95" y="299" width="1" height="7" fill="#dc143c" shape-rendering="crispEdges"/>
<rect x="94" y="301" width="3" height="3" fill="#dc143c" shape-rendering="crispEdges"/>
<rect x="99" y="286" width="1" height="22" fill="#dc143c" shape-rendering="crispEdges"/>
<rect x="98" y="303" width="3" height="4" fill="#dc143c" shape-rendering="crispEdges"/>
<rect x="103" y="270" width="1" height="46" fill="#008080" shape-rendering="crispEdges"/>
<rect x="102" y="273" width="3" height="34" fill="#008080" shape-rendering="crispEdges"/>
<rect x="107" y="268" width="1" height="20" fill="#dc143c" shape-rendering="crispEdges"/>
<rect x="106" y="272" width="3" height="1" fill="#dc143c" shape-rendering="crispEdges"/>
<rect x="111" y="260" width="1" height="15" fill="#008080" shape-rendering="crispEdges"/>
<rect x="110" y="270" width="3" height="3" fill="#008080" shape-rendering="crispEdges"/>
<rect x="115" y="264" width="1" height="9" fill="#008080" shape-rendering="crispEdges"/>
<rect x="114" y="269" width="3" height="3" fill="#008080" shape-rendering="crispEdges"/>
<rect x="119" y="266" width="1" height="17" fill="#dc143c" shape-rendering="crispEdges"/>
<rect x="118" y="270" width="3" height="11" fill="#dc143c" shape-rendering="crispEdges"/>
<rect x="123" y="274" width="1" height="17" fill="#dc143c" shape-rendering="crispEdges"/>
<rect x="122" y="280" width="3" height="7" fill="#dc143c" shape-rendering="crispEdges"/>
<rect x="127" y="221" width="1" height="68" fill="#008080" shape-rendering="crispEdges"/>
<rect x="126" y="228" width="3" height="58" fill="#008080" shape-rendering="crispEdges"/>
<rect x="131" y="204" width="1" height="41" fill="#008080" shape-rendering="crispEdges"/>
<rect x="130" y="221" width="3" height="8" fill="#008080" shape-rendering="crispEdges"/>
<rect x="135" y="214" width="1" height="17" fill="#dc143c" shape-rendering="crispEdges"/>
<rect x="134" y="221" width="3" height="6" fill="#dc143c" shape-rendering="crispEdges"/>
<rect x="139" y="204" width="1" height="26" fill="#008080" shape-rendering="crispEdges"/>
<rect x="138" y="206" width="3" height="22" fill="#008080" shape-rendering="crispEdges"/>
<rect x="143" y="203" width="1" height="17" fill="#dc143c" shape-rendering="crispEdges"/>
<rect x="142" y="206" width="3" height="12" fill="#dc143c" shape-rendering="crispEdges"/>
<rect x="147" y="215" width="1" height="29" fill="#dc143c" shape-rendering="crispEdges"/>
<rect x="146" y="217" width="3" height="20" fill="#dc143c" shape-rendering="crispEdges"/>
<rect x="151" y="205" width="1" height="34" fill="#008080" shape-rendering="crispEdges"/>
<rect x="150" y="224" width="3" height="13" fill="#008080" shape-rendering="crispEdges"/>
<rect x="155" y="216" width="1" height="39" fill="#008080" shape-rendering="crispEdges"/>
<rect x="154" y="219" width="3" height="6" fill="#008080" shape-rendering="crispEdges"/>
<rect x="159" y="216" width="1" height="16" fill="#dc143c" shape-rendering="crispEdges"/>
<rect x="158" y="219" width="3" height="8" fill="#dc143c" shape-rendering="crispEdges"/>
<rect x="163" y="217" width="1" height="13" fill="#008080" shape-rendering="crispEdges"/>
<rect x="162" y="222" width="3" height="7" fill="#008080" shape-rendering="crispEdges"/>
<rect x="167" y="210" width="1" height="13" fill="#008080" shape-rendering="crispEdges"/>
<rect x="166" y="219" width="3" height="4" fill="#008080" shape-rendering="crispEdges"/>
<rect x="171" y="208" width="1" height="50" fill="#dc143c" shape-rendering="crispEdges"/>
<rect x="170" y="219" width="3" height="26" fill="#dc143c" shape-rendering="crispEdges"/>
<rect x="175" y="220" width="1" height="35" fill="#008080" shape-rendering="crispEdges"/>
<rect x="174" y="231" width="3" height="14" fill="#008080" shape-rendering="crispEdges"/>
<rect x="179" y="209" width="1" height="46" fill="#008080" shape-rendering="crispEdges"/>
<rect x="178" y="226" width="3" height="6" fill="#008080" shape-rendering="crispEdges"/>
<rect x="183" y="226" width="1" height="27" fill="#dc143c" shape-rendering="crispEdges"/>
<rect x="182" y="226" width="3" height="19" fill="#dc143c" shape-rendering="crispEdges"/>
<rect x="187" y="244" width="1" height="22" fill="#dc143c" shape-rendering="crispEdges"/>
<rect x="186" y="246" width="3" height="9" fill="#dc143c" shape-rendering="crispEdges"/>
<rect x="191" y="246" width="1" height="9" fill="#008080" shape-rendering="crispEdges"/>
<rect x="190" y="247" width="3" height="8" fill="#008080" shape-rendering="crispEdges"/>
<rect x="195" y="214" width="1" height="36" fill="#008080" shape-rendering="crispEdges"/>
<rect x="194" y="224" width="3" height="24" fill="#008080" shape-rendering="crispEdges"/>
<rect x="199" y="218" width="1" height="33" fill="#dc143c" shape-rendering="crispEdges"/>
<rect x="198" y="224" width="3" height="26" fill="#dc143c" shape-rendering="crispEdges"/>
<rect x="203" y="244" width="1" height="38" fill="#008080" shape-rendering="crispEdges"/>
<rect x="202" y="245" width="3" height="5" fill="#008080" shape-rendering="crispEdges"/>
<rect x="207" y="237" width="1" height="13" fill="#dc143c" shape-rendering="crispEdges"/>
<rect x="206" y="244" width="3" height="3" fill="#dc143c" shape-rendering="crispEdges"/>
<rect x="211" y="236" width="1" height="18" fill="#dc143c" shape-rendering="crispEdges"/>
<rect x="210" y="240" width="3" height="13" fill="#dc143c" shape-rendering="crispEdges"/>
<rect x="215" y="251" width="1" height="13" fill="#dc143c" shape-rendering="crispEdges"/>
<rect x="214" y="252" width="3" height="8" fill="#dc143c" shape-rendering="crispEdges"/>
<rect x="219" y="211" width="1" height="50" fill="#008080" shape-rendering="crispEdges"/>
<rect x="218" y="219" width="3" height="41" fill="#008080" shape-rendering="crispEdges"/>
<rect x="223" y="135" width="1" height="85" fill="#008080" shape-rendering="crispEdges"/>
<rect x="222" y="155" width="3" height="65" fill="#008080" shape-rendering="crispEdges"/>
<rect x="227" y="149" width="1" height="38" fill="#dc143c" shape-rendering="crispEdges"/>
<rect x="226" y="155" width="3" height="11" fill="#dc143c" shape-rendering="crispEdges"/>
<rect x="231" y="161" width="1" height="23" fill="#dc143c" shape-rendering="crispEdges"/>
<rect x="230" y="166" width="3" height="16" fill="#dc143c" shape-rendering="crispEdges"/>
<rect x="235" y="164" width="1" height="21" fill="#008080" shape-rendering="crispEdges"/>
<rect x="234" y="170" width="3" height="12" fill="#008080" shape-rendering="crispEdges"/>
<rect x="239" y="168" width="1" height="17" fill="#dc143c" shape-rendering="crispEdges"/>
<rect x="238" y="170" width="3" height="10" fill="#dc143c" shape-rendering="crispEdges"/>
<rect x="243" y="151" width="1" height="37" fill="#008080" shape-rendering="crispEdges"/>
<rect x="242" y="179" width="3" height="1" fill="#008080" shape-rendering="crispEdges"/>
<rect x="247" y="174" width="1" height="37" fill="#dc143c" shape-rendering="crispEdges"/>
<rect x="246" y="179" width="3" height="29" fill="#dc143c" shape-rendering="crispEdges"/>
<rect x="251" y="185" width="1" height="28" fill="#008080" shape-rendering="crispEdges"/>
<rect x="250" y="194" width="3" height="14" fill="#008080" shape-rendering="crispEdges"/>
<rect x="255" y="192" width="1" height="14" fill="#dc143c" shape-rendering="crispEdges"/>
<rect x="254" y="194" width="3" height="6" fill="#dc143c" shape-rendering="crispEdges"/>
<rect x="259" y="190" width="1" height="11" fill="#008080" shape-rendering="crispEdges"/>
<rect x="258" y="193" width="3" height="7" fill="#008080" shape-rendering="crispEdges"/>
<rect x="263" y="185" width="1" height="15" fill="#dc143c" shape-rendering="crispEdges"/>
<rect x="262" y="193" width="3" height="3" fill="#dc143c" shape-rendering="crispEdges"/>
<rect x="267" y="144" width="1" height="54" fill="#008080" shape-rendering="crispEdges"/>
<rect x="266" y="157" width="3" height="37" fill="#008080" shape-rendering="crispEdges"/>
<rect x="271" y="145" width="1" height="24" fill="#008080" shape-rendering="crispEdges"/>
<rect x="270" y="150" width="3" height="8" fill="#008080" shape-rendering="crispEdges"/>
<rect x="275" y="138" width="1" height="20" fill="#008080" shape-rendering="crispEdges"/>
<rect x="274" y="142" width="3" height="10" fill="#008080" shape-rendering="crispEdges"/>
<rect x="279" y="89" width="1" height="69" fill="#008080" shape-rendering="crispEdges"/>
<rect x="278" y="98" width="3" height="46" fill="#008080" shape-rendering="crispEdges"/>
<rect x="283" y="75" width="1" height="26" fill="#008080" shape-rendering="crispEdges"/>
<rect x="282" y="80" width="3" height="19" fill="#008080" shape-rendering="crispEdges"/>
<rect x="287" y="77" width="1" height="18" fill="#dc143c" shape-rendering="crispEdges"/>
<rect x="286" y="80" width="3" height="14" fill="#dc143c" shape-rendering="crispEdges"/>
<rect x="291" y="67" width="1" height="31" fill="#dc143c" shape-rendering="crispEdges"/>
<rect x="290" y="94" width="3" height="3" fill="#dc143c" shape-rendering="crispEdges"/>
<rect x="295" y="41" width="1" height="81" fill="#dc143c" shape-rendering="crispEdges"/>
<rect x="294" y="97" width="3" height="14" fill="#dc143c" shape-rendering="crispEdges"/>
<rect x="299" y="104" width="1" height="41" fill="#dc143c" shape-rendering="crispEdges"/>
<rect x="298" y="110" width="3" height="15" fill="#dc143c" shape-rendering="crispEdges"/>
<rect x="303" y="113" width="1" height="19" fill="#dc143c" shape-rendering="crispEdges"/>
<rect x="302" y="124" width="3" height="4" fill="#dc143c" shape-rendering="crispEdges"/>
<rect x="307" y="110" width="1" height="18" fill="#008080" shape-rendering="crispEdges"/>
<rect x="306" y="113" width="3" height="14" fill="#008080" shape-rendering="crispEdges"/>
<rect x="311" y="111" width="1" height="10" fill="#dc143c" shape-rendering="crispEdges"/>
<rect x="310" y="114" width="3" height="6" fill="#dc143c" shape-rendering="crispEdges"/>
<rect x="315" y="107" width="1" height="27" fill="#dc143c" shape-rendering="crispEdges"/>
<rect x="314" y="119" width="3" height="12" fill="#dc143c" shape-rendering="crispEdges"/>
<rect x="319" y="87" width="1" height="51" fill="#008080" shape-rendering="crispEdges"/>
<rect x="318" y="91" width="3" height="41" fill="#008080" shape-rendering="crispEdges"/>
<rect x="323" y="74" width="1" height="25" fill="#008080" shape-rendering="crispEdges"/>
<rect x="322" y="89" width="3" height="3" fill="#008080" shape-rendering="crispEdges"/>
<rect x="327" y="87" width="1" height="19" fill="#dc143c" shape-rendering="crispEdges"/>
<rect x="326" y="89" width="3" height="17" fill="#dc143c" shape-rendering="crispEdges"/>
<rect x="331" y="80" width="1" height="27" fill="#008080" shape-rendering="crispEdges"/>
<rect x="330" y="82" width="3" height="22" fill="#008080" shape-rendering="crispEdges"/>
<rect x="335" y="74" width="1" height="12" fill="#dc143c" shape-rendering="crispEdges"/>
<rect x="334" y="82" width="3" height="2" fill="#dc143c" shape-rendering="crispEdges"/>
<rect x="339" y="54" width="1" height="35" fill="#008080" shape-rendering="crispEdges"/>
<rect x="338" y="56" width="3" height="27" fill="#008080" shape-rendering="crispEdges"/>
<rect x="343" y="28" width="1" height="31" fill="#dc143c" shape-rendering="crispEdges"/>
<rect x="342" y="56" width="3" height="2" fill="#dc143c" shape-rendering="crispEdges"/>
<rect x="347" y="20" width="1" height="40" fill="#008080" shape-rendering="crispEdges"/>
<rect x="346" y="37" width="3" height="21" fill="#008080" shape-rendering="crispEdges"/>
<rect x="351" y="27" width="1" height="12" fill="#008080" shape-rendering="crispEdges"/>
<rect x="350" y="32" width="3" height="6" fill="#008080" shape-rendering="crispEdges"/>
<rect x="355" y="25" width="1" height="12" fill="#008080" shape-rendering="crispEdges"/>
<rect x="354" y="30" width="3" height="2" fill="#008080" shape-rendering="crispEdges"/>
<rect x="359" y="26" width="1" height="11" fill="#008080" shape-rendering="crispEdges"/>
<rect x="358" y="30" width="3" height="1" fill="#008080" shape-rendering="crispEdges"/>
<rect x="363" y="21" width="1" height="71" fill="#dc143c" shape-rendering="crispEdges"/>
<rect x="362" y="30" width="3" height="62" fill="#dc143c" shape-rendering="crispEdges"/>
<rect x="367" y="85" width="1" height="67" fill="#dc143c" shape-rendering="crispEdges"/>
<rect x="366" y="91" width="3" height="24" fill="#dc143c" shape-rendering="crispEdges"/>
<rect x="371" y="72" width="1" height="47" fill="#008080" shape-rendering="crispEdges"/>
<rect x="370" y="76" width="3" height="39" fill="#008080" shape-rendering="crispEdges"/>
<rect x="375" y="73" width="1" height="19" fill="#dc143c" shape-rendering="crispEdges"/>
<rect x="374" y="76" width="3" height="9" fill="#dc143c" shape-rendering="crispEdges"/>
<rect x="379" y="64" width="1" height="33" fill="#008080" shape-rendering="crispEdges"/>
<rect x="378" y="70" width="3" height="27" fill="#008080" shape-rendering="crispEdges"/>
<rect x="383" y="59" width="1" height="14" fill="#008080" shape-rendering="crispEdges"/>
<rect x="382" y="60" width="3" height="11" fill="#008080" shape-rendering="crispEdges"/>
<rect x="387" y="53" width="1" height="48" fill="#dc143c" shape-rendering="crispEdges"/>
<rect x="386" y="60" width="3" height="23" fill="#dc143c" shape-rendering="crispEdges"/>
<rect x="391" y="68" width="1" height="37" fill="#dc143c" shape-rendering="crispEdges"/>
<rect x="390" y="81" width="3" height="17" fill="#dc143c" shape-rendering="crispEdges"/>
<rect x="395" y="95" width="1" height="39" fill="#dc143c" shape-rendering="crispEdges"/>
<rect x="394" y="97" width="3" height="25" fill="#dc143c" shape-rendering="crispEdges"/>
<rect x="399" y="119" width="1" height="29" fill="#dc143c" shape-rendering="crispEdges"/>
<rect x="398" y="122" width="3" height="23" fill="#dc143c" shape-rendering="crispEdges"/>
<rect x="403" y="136" width="1" height="20" fill="#dc143c" shape-rendering="crispEdges"/>
<rect x="402" y="143" width="3" height="11" fill="#dc143c" shape-rendering="crispEdges"/>
<rect x="407" y="135" width="1" height="20" fill="#008080" shape-rendering="crispEdges"/>
<rect x="406" y="140" width="3" height="14" fill="#008080" shape-rendering="crispEdges"/>
<rect x="411" y="128" width="1" height="47" fill="#dc143c" shape-rendering="crispEdges"/>
<rect x="410" y="140" width="3" height="34" fill="#dc143c" shape-rendering="crispEdges"/>
<rect x="415" y="138" width="1" height="37" fill="#008080" shape-rendering="crispEdges"/>
<rect x="414" y="155" width="3" height="18" fill="#008080" shape-rendering="crispEdges"/>
<rect x="419" y="142" width="1" height="51" fill="#dc143c" shape-rendering="crispEdges"/>
<rect x="418" y="155" width="3" height="34" fill="#dc143c" shape-rendering="crispEdges"/>
<rect x="423" y="170" width="1" height="22" fill="#dc143c" shape-rendering="crispEdges"/>
<rect x="422" y="188" width="3" height="2" fill="#dc143c" shape-rendering="crispEdges"/>
<rect x="427" y="173" width="1" height="19" fill="#dc143c" shape-rendering="crispEdges"/>
<rect x="426" y="189" width="3" height="1" fill="#dc143c" shape-rendering="crispEdges"/>
<rect x="431" y="175" width="1" height="16" fill="#008080" shape-rendering="crispEdges"/>
<rect x="430" y="177" width="3" height="13" fill="#008080" shape-rendering="crispEdges"/>
<rect x="435" y="156" width="1" height="29" fill="#008080" shape-rendering="crispEdges"/>
<rect x="434" y="161" width="3" height="17" fill="#008080" shape-rendering="crispEdges"/>
<rect x="439" y="157" width="1" height="9" fill="#dc143c" shape-rendering="crispEdges"/>
<rect x="438" y="161" width="3" height="1" fill="#dc143c" shape-rendering="crispEdges"/>
<rect x="443" y="159" width="1" height="25" fill="#dc143c" shape-rendering="crispEdges"/>
<rect x="442" y="162" width="3" height="16" fill="#dc143c" shape-rendering="crispEdges"/>
<rect x="447" y="172" width="1" height="22" fill="#dc143c" shape-rendering="crispEdges"/>
<rect x="446" y="177" width="3" height="11" fill="#dc143c" shape-rendering="crispEdges"/>
<rect x="451" y="164" width="1" height="27" fill="#008080" shape-rendering="crispEdges"/>
<rect x="450" y="166" width="3" height="20" fill="#008080" shape-rendering="crispEdges"/>
<rect x="455" y="160" width="1" height="12" fill="#dc143c" shape-rendering="crispEdges"/>
<rect x="454" y="165" width="3" height="6" fill="#dc143c" shape-rendering="crispEdges"/>
<rect x="459" y="148" width="1" height="26" fill="#008080" shape-rendering="crispEdges"/>
<rect x="458" y="151" width="3" height="19" fill="#008080" shape-rendering="crispEdges"/>
<rect x="463" y="143" width="1" height="26" fill="#dc143c" shape-rendering="crispEdges"/>
<rect x="462" y="151" width="3" height="4" fill="#dc143c" shape-rendering="crispEdges"/>
<rect x="467" y="151" width="1" height="30" fill="#dc143c" shape-rendering="crispEdges"/>
<rect x="466" y="154" width="3" height="22" fill="#dc143c" shape-rendering="crispEdges"/>
<rect x="471" y="162" width="1" height="18" fill="#008080" shape-rendering="crispEdges"/>
<rect x="470" y="168" width="3" height="8" fill="#008080" shape-rendering="crispEdges"/>
<rect x="475" y="160" width="1" height="11" fill="#008080" shape-rendering="crispEdges"/>
<rect x="474" y="162" width="3" height="8" fill="#008080" shape-rendering="crispEdges"/>
<rect x="479" y="154" width="1" height="13" fill="#008080" shape-rendering="crispEdges"/>
<rect x="478" y="155" width="3" height="8" fill="#008080" shape-rendering="crispEdges"/>
<rect x="483" y="134" width="1" height="28" fill="#008080" shape-rendering="crispEdges"/>
<rect x="482" y="141" width="3" height="15" fill="#008080" shape-rendering="crispEdges"/>
<rect x="487" y="137" width="1" height="48" fill="#dc143c" shape-rendering="crispEdges"/>
<rect x="486" y="141" width="3" height="13" fill="#dc143c" shape-rendering="crispEdges"/>
<rect x="491" y="143" width="1" height="34" fill="#dc143c" shape-rendering="crispEdges"/>
<rect x="490" y="153" width="3" height="7" fill="#dc143c" shape-rendering="crispEdges"/>
<rect x="495" y="151" width="1" height="14" fill="#dc143c" shape-rendering="crispEdges"/>
<rect x="494" y="160" width="3" height="1" fill="#dc143c" shape-rendering="crispEdges"/>
<rect x="499" y="138" width="1" height="25" fill="#008080" shape-rendering="crispEdges"/>
<rect x="498" y="140" width="3" height="22" fill="#008080" shape-rendering="crispEdges"/>
<rect x="503" y="129" width="1" height="17" fill="#008080" shape-rendering="crispEdges"/>
<rect x="502" y="138" width="3" height="3" fill="#008080" shape-rendering="crispEdges"/>
<rect x="507" y="136" width="1" height="24" fill="#dc143c" shape-rendering="crispEdges"/>
<rect x="506" y="138" width="3" height="6" fill="#dc143c" shape-rendering="crispEdges"/>
<rect x="511" y="141" width="1" height="49" fill="#dc143c" shape-rendering="crispEdges"/>
<rect x="510" y="143" width="3" height="9" fill="#dc143c" shape-rendering="crispEdges"/>
<rect x="515" y="134" width="1" height="20" fill="#008080" shape-rendering="crispEdges"/>
<rect x="514" y="140" width="3" height="12" fill="#008080" shape-rendering="crispEdges"/>
<rect x="519" y="139" width="1" height="12" fill="#dc143c" shape-rendering="crispEdges"/>
<rect x="518" y="140" width="3" height="2" fill="#dc143c" shape-rendering="crispEdges"/>
<rect x="523" y="128" width="1" height="16" fill="#008080" shape-rendering="crispEdges"/>
<rect x="522" y="131" width="3" height="13" fill="#008080" shape-rendering="crispEdges"/>
<rect x="527" y="129" width="1" height="21" fill="#dc143c" shape-rendering="crispEdges"/>
<rect x="526" y="131" width="3" height="18" fill="#dc143c" shape-rendering="crispEdges"/>
<rect x="531" y="145" width="1" height="32" fill="#dc143c" shape-rendering="crispEdges"/>
<rect x="530" y="148" width="3" height="23" fill="#dc143c" shape-rendering="crispEdges"/>
<rect x="535" y="149" width="1" height="51" fill="#dc143c" shape-rendering="crispEdges"/>
<rect x="534" y="170" width="3" height="18" fill="#dc143c" shape-rendering="crispEdges"/>
<rect x="539" y="185" width="1" height="41" fill="#dc143c" shape-rendering="crispEdges"/>
<rect x="538" y="187" width="3" height="23" fill="#dc143c" shape-rendering="crispEdges"/>
<rect x="543" y="195" width="1" height="19" fill="#008080" shape-rendering="crispEdges"/>
<rect x="542" y="198" width="3" height="12" fill="#008080" shape-rendering="crispEdges"/>
<rect x="547" y="190" width="1" height="12" fill="#008080" shape-rendering="crispEdges"/>
<rect x="546" y="194" width="3" height="7" fill="#008080" shape-rendering="crispEdges"/>
<rect x="551" y="184" width="1" height="22" fill="#dc143c" shape-rendering="crispEdges"/>
<rect x="550" y="194" width="3" height="9" fill="#dc143c" shape-rendering="crispEdges"/>
<rect x="555" y="193" width="1" height="20" fill="#008080" shape-rendering="crispEdges"/>
<rect x="554" y="196" width="3" height="7" fill="#008080" shape-rendering="crispEdges"/>
<rect x="559" y="172" width="1" height="28" fill="#008080" shape-rendering="crispEdges"/>
<rect x="558" y="174" width="3" height="23" fill="#008080" shape-rendering="crispEdges"/>
<rect x="563" y="122" width="1" height="58" fill="#008080" shape-rendering="crispEdges"/>
<rect x="562" y="137" width="3" height="38" fill="#008080" shape-rendering="crispEdges"/>
<rect x="567" y="125" width="1" height="20" fill="#dc143c" shape-rendering="crispEdges"/>
<rect x="566" y="137" width="3" height="2" fill="#dc143c" shape-rendering="crispEdges"/>
<rect x="571" y="124" width="1" height="17" fill="#008080" shape-rendering="crispEdges"/>
<rect x="570" y="129" width="3" height="7" fill="#008080" shape-rendering="crispEdges"/>
<rect x="575" y="125" width="1" height="11" fill="#dc143c" shape-rendering="crispEdges"/>
<rect x="574" y="128" width="3" height="3" fill="#dc143c" shape-rendering="crispEdges"/>
<rect x="579" y="114" width="1" height="21" fill="#008080" shape-rendering="crispEdges"/>
<rect x="578" y="128" width="3" height="3" fill="#008080" shape-rendering="crispEdges"/>
</g>
<g clip-path="url(#c2)">
<line x1="3" y1="403.5" x2="730" y2="403.5" stroke="#555" stroke-width="1" stroke-dasharray="3,3" shape-rendering="crispEdges"/>
<rect x="2" y="401.1" width="3" height="2.4" fill="#008080" shape-rendering="crispEdges"/>
<rect x="6" y="397.6" width="3" height="5.9" fill="#008080" shape-rendering="crispEdges"/>
<rect x="10" y="397.3" width="3" height="6.2" fill="#008080" shape-rendering="crispEdges"/>
<rect x="14" y="396.8" width="3" height="6.7" fill="#008080" shape-rendering="crispEdges"/>
<rect x="18" y="396.1" width="3" height="7.4" fill="#008080" shape-rendering="crispEdges"/>
<rect x="22" y="396.4" width="3" height="7.1" fill="#008080" shape-rendering="crispEdges"/>
<rect x="26" y="398.2" width="3" height="5.3" fill="#008080" shape-rendering="crispEdges"/>
<rect x="30" y="398.2" width="3" height="5.3" fill="#008080" shape-rendering="crispEdges"/>
<rect x="34" y="397.9" width="3" height="5.6" fill="#008080" shape-rendering="crispEdges"/>
<rect x="38" y="397.0" width="3" height="6.5" fill="#008080" shape-rendering="crispEdges"/>
<rect x="42" y="396.1" width="3" height="7.4" fill="#008080" shape-rendering="crispEdges"/>
<rect x="46" y="396.0" width="3" height="7.5" fill="#008080" shape-rendering="crispEdges"/>
<rect x="50" y="398.7" width="3" height="4.8" fill="#008080" shape-rendering="crispEdges"/>
<rect x="54" y="398.9" width="3" height="4.6" fill="#008080" shape-rendering="crispEdges"/>
<rect x="58" y="403.5" width="3" height="0.7" fill="#008080" shape-rendering="crispEdges"/>
<rect x="62" y="403.5" width="3" height="4.3" fill="#008080" shape-rendering="crispEdges"/>
<rect x="66" y="403.5" width="3" height="7.6" fill="#008080" shape-rendering="crispEdges"/>
<rect x="70" y="403.5" width="3" height="8.7" fill="#008080" shape-rendering="crispEdges"/>
<rect x="74" y="403.5" width="3" height="9.0" fill="#008080" shape-rendering="crispEdges"/>
<rect x="78" y="403.5" width="3" height="7.0" fill="#008080" shape-rendering="crispEdges"/>
<rect x="82" y="403.5" width="3" height="4.6" fill="#008080" shape-rendering="crispEdges"/>
<rect x="86" y="403.5" width="3" height="3.6" fill="#008080" shape-rendering="crispEdges"/>
<rect x="90" y="403.5" width="3" height="1.5" fill="#008080" shape-rendering="crispEdges"/>
<rect x="94" y="403.5" width="3" height="0.5" fill="#008080" shape-rendering="crispEdges"/>
<rect x="98" y="403.5" width="3" height="1.0" fill="#008080" shape-rendering="crispEdges"/>
<rect x="102" y="400.2" width="3" height="3.3" fill="#008080" shape-rendering="crispEdges"/>
<rect x="106" y="398.0" width="3" height="5.5" fill="#008080" shape-rendering="crispEdges"/>
<rect x="110" y="396.5" width="3" height="7.0" fill="#008080" shape-rendering="crispEdges"/>
<rect x="114" y="395.6" width="3" height="7.9" fill="#008080" shape-rendering="crispEdges"/>
<rect x="118" y="396.2" width="3" height="7.3" fill="#008080" shape-rendering="crispEdges"/>
<rect x="122" y="397.4" width="3" height="6.1" fill="#008080" shape-rendering="crispEdges"/>
<rect x="126" y="392.5" width="3" height="11.0" fill="#008080" shape-rendering="crispEdges"/>
<rect x="130" y="388.9" width="3" height="14.6" fill="#008080" shape-rendering="crispEdges"/>
<rect x="134" y="387.5" width="3" height="16.0" fill="#008080" shape-rendering="crispEdges"/>
<rect x="138" y="384.9" width="3" height="18.6" fill="#008080" shape-rendering="crispEdges"/>
<rect x="142" y="384.6" width="3" height="18.9" fill="#008080" shape-rendering="crispEdges"/>
<rect x="146" y="386.7" width="3" height="16.8" fill="#008080" shape-rendering="crispEdges"/>
<rect x="150" y="387.2" width="3" height="16.3" fill="#008080" shape-rendering="crispEdges"/>
<rect x="154" y="387.3" width="3" height="16.2" fill="#008080" shape-rendering="crispEdges"/>
<rect x="158" y="388.3" width="3" height="15.2" fill="#008080" shape-rendering="crispEdges"/>
<rect x="162" y="388.9" width="3" height="14.6" fill="#008080" shape-rendering="crispEdges"/>
<rect x="166" y="389.2" width="3" height="14.3" fill="#008080" shape-rendering="crispEdges"/>
<rect x="170" y="392.1" width="3" height="11.4" fill="#008080" shape-rendering="crispEdges"/>
<rect x="174" y="392.9" width="3" height="10.6" fill="#008080" shape-rendering="crispEdges"/>
<rect x="178" y="393.1" width="3" height="10.4" fill="#008080" shape-rendering="crispEdges"/>
<rect x="182" y="395.2" width="3" height="8.3" fill="#008080" shape-rendering="crispEdges"/>
<rect x="186" y="397.6" width="3" height="5.9" fill="#008080" shape-rendering="crispEdges"/>
<rect x="190" y="398.6" width="3" height="4.9" fill="#008080" shape-rendering="crispEdges"/>
<rect x="194" y="397.0" width="3" height="6.5" fill="#008080" shape-rendering="crispEdges"/>
<rect x="198" y="398.6" width="3" height="4.9" fill="#008080" shape-rendering="crispEdges"/>
<rect x="202" y="399.3" width="3" height="4.2" fill="#008080" shape-rendering="crispEdges"/>
<rect x="206" y="399.9" width="3" height="3.6" fill="#008080" shape-rendering="crispEdges"/>
<rect x="210" y="401.0" width="3" height="2.5" fill="#008080" shape-rendering="crispEdges"/>
<rect x="214" y="402.4" width="3" height="1.1" fill="#008080" shape-rendering="crispEdges"/>
<rect x="218" y="399.3" width="3" height="4.2" fill="#008080" shape-rendering="crispEdges"/>
<rect x="222" y="391.2" width="3" height="12.3" fill="#008080" shape-rendering="crispEdges"/>
<rect x="226" y="387.3" width="3" height="16.2" fill="#008080" shape-rendering="crispEdges"/>
<rect x="230" y="386.7" width="3" height="16.8" fill="#008080" shape-rendering="crispEdges"/>
<rect x="234" y="385.5" width="3" height="18.0" fill="#008080" shape-rendering="crispEdges"/>
<rect x="238" y="386.0" width="3" height="17.5" fill="#008080" shape-rendering="crispEdges"/>
<rect x="242" y="386.7" width="3" height="16.8" fill="#008080" shape-rendering="crispEdges"/>
<rect x="246" y="390.2" width="3" height="13.3" fill="#008080" shape-rendering="crispEdges"/>
<rect x="250" y="391.3" width="3" height="12.2" fill="#008080" shape-rendering="crispEdges"/>
<rect x="254" y="392.7" width="3" height="10.8" fill="#008080" shape-rendering="crispEdges"/>
<rect x="258" y="393.3" width="3" height="10.2" fill="#008080" shape-rendering="crispEdges"/>
<rect x="262" y="394.0" width="3" height="9.5" fill="#008080" shape-rendering="crispEdges"/>
<rect x="266" y="390.9" width="3" height="12.6" fill="#008080" shape-rendering="crispEdges"/>
<rect x="270" y="388.4" width="3" height="15.1" fill="#008080" shape-rendering="crispEdges"/>
<rect x="274" y="386.4" width="3" height="17.1" fill="#008080" shape-rendering="crispEdges"/>
<rect x="278" y="381.1" width="3" height="22.4" fill="#008080" shape-rendering="crispEdges"/>
<rect x="282" y="376.4" width="3" height="27.1" fill="#008080" shape-rendering="crispEdges"/>
<rect x="286" y="375.3" width="3" height="28.2" fill="#008080" shape-rendering="crispEdges"/>
<rect x="290" y="375.3" width="3" height="28.2" fill="#008080" shape-rendering="crispEdges"/>
<rect x="294" y="377.3" width="3" height="26.2" fill="#008080" shape-rendering="crispEdges"/>
<rect x="298" y="380.4" width="3" height="23.1" fill="#008080" shape-rendering="crispEdges"/>
<rect x="302" y="383.0" width="3" height="20.5" fill="#008080" shape-rendering="crispEdges"/>
<rect x="306" y="383.7" width="3" height="19.8" fill="#008080" shape-rendering="crispEdges"/>
<rect x="310" y="385.1" width="3" height="18.4" fill="#008080" shape-rendering="crispEdges"/>
<rect x="314" y="387.4" width="3" height="16.1" fill="#008080" shape-rendering="crispEdges"/>
<rect x="318" y="385.3" width="3" height="18.2" fill="#008080" shape-rendering="crispEdges"/>
<rect x="322" y="384.1" width="3" height="19.4" fill="#008080" shape-rendering="crispEdges"/>
<rect x="326" y="385.3" width="3" height="18.2" fill="#008080" shape-rendering="crispEdges"/>
<rect x="330" y="384.1" width="3" height="19.4" fill="#008080" shape-rendering="crispEdges"/>
<rect x="334" y="383.9" width="3" height="19.6" fill="#008080" shape-rendering="crispEdges"/>
<rect x="338" y="381.4" width="3" height="22.1" fill="#008080" shape-rendering="crispEdges"/>
<rect x="342" y="380.3" width="3" height="23.2" fill="#008080" shape-rendering="crispEdges"/>
<rect x="346" y="378.1" width="3" height="25.4" fill="#008080" shape-rendering="crispEdges"/>
<rect x="350" y="376.7" width="3" height="26.8" fill="#008080" shape-rendering="crispEdges"/>
<rect x="354" y="376.1" width="3" height="27.4" fill="#008080" shape-rendering="crispEdges"/>
<rect x="358" y="376.3" width="3" height="27.2" fill="#008080" shape-rendering="crispEdges"/>
<rect x="362" y="382.9" width="3" height="20.6" fill="#008080" shape-rendering="crispEdges"/>
<rect x="366" y="389.7" width="3" height="13.8" fill="#008080" shape-rendering="crispEdges"/>
<rect x="370" y="390.5" width="3" height="13.0" fill="#008080" shape-rendering="crispEdges"/>
<rect x="374" y="392.0" width="3" height="11.5" fill="#008080" shape-rendering="crispEdges"/>
<rect x="378" y="391.8" width="3" height="11.7" fill="#008080" shape-rendering="crispEdges"/>
<rect x="382" y="390.9" width="3" height="12.6" fill="#008080" shape-rendering="crispEdges"/>
<rect x="386" y="392.7" width="3" height="10.8" fill="#008080" shape-rendering="crispEdges"/>
<rect x="390" y="395.6" width="3" height="7.9" fill="#008080" shape-rendering="crispEdges"/>
<rect x="394" y="399.9" width="3" height="3.6" fill="#008080" shape-rendering="crispEdges"/>
<rect x="398" y="403.5" width="3" height="1.4" fill="#008080" shape-rendering="crispEdges"/>
<rect x="402" y="403.5" width="3" height="5.4" fill="#008080" shape-rendering="crispEdges"/>
<rect x="406" y="403.5" width="3" height="6.6" fill="#008080" shape-rendering="crispEdges"/>
<rect x="410" y="403.5" width="3" height="10.4" fill="#008080" shape-rendering="crispEdges"/>
<rect x="414" y="403.5" width="3" height="10.9" fill="#008080" shape-rendering="crispEdges"/>
<rect x="418" y="403.5" width="3" height="14.2" fill="#008080" shape-rendering="crispEdges"/>
<rect x="422" y="403.5" width="3" height="16.2" fill="#008080" shape-rendering="crispEdges"/>
<rect x="426" y="403.5" width="3" height="17.1" fill="#008080" shape-rendering="crispEdges"/>
<rect x="430" y="403.5" width="3" height="16.2" fill="#008080" shape-rendering="crispEdges"/>
<rect x="434" y="403.5" width="3" height="13.7" fill="#008080" shape-rendering="crispEdges"/>
<rect x="438" y="403.5" width="3" height="11.9" fill="#008080" shape-rendering="crispEdges"/>
<rect x="442" y="403.5" width="3" height="12.1" fill="#008080" shape-rendering="crispEdges"/>
<rect x="446" y="403.5" width="3" height="13.0" fill="#008080" shape-rendering="crispEdges"/>
<rect x="450" y="403.5" width="3" height="11.3" fill="#008080" shape-rendering="crispEdges"/>
<rect x="454" y="403.5" width="3" height="10.4" fill="#008080" shape-rendering="crispEdges"/>
<rect x="458" y="403.5" width="3" height="7.8" fill="#008080" shape-rendering="crispEdges"/>
<rect x="462" y="403.5" width="3" height="6.2" fill="#008080" shape-rendering="crispEdges"/>
<rect x="466" y="403.5" width="3" height="7.2" fill="#008080" shape-rendering="crispEdges"/>
<rect x="470" y="403.5" width="3" height="7.1" fill="#008080" shape-rendering="crispEdges"/>
<rect x="474" y="403.5" width="3" height="6.2" fill="#008080" shape-rendering="crispEdges"/>
<rect x="478" y="403.5" width="3" height="4.9" fill="#008080" shape-rendering="crispEdges"/>
<rect x="482" y="403.5" width="3" height="2.6" fill="#008080" shape-rendering="crispEdges"/>
<rect x="486" y="403.5" width="3" height="2.2" fill="#008080" shape-rendering="crispEdges"/>
<rect x="490" y="403.5" width="3" height="2.6" fill="#008080" shape-rendering="crispEdges"/>
<rect x="494" y="403.5" width="3" height="2.9" fill="#008080" shape-rendering="crispEdges"/>
<rect x="498" y="403.5" width="3" height="1.0" fill="#008080" shape-rendering="crispEdges"/>
<rect x="502" y="403.1" width="3" height="1.0" fill="#008080" shape-rendering="crispEdges"/>
<rect x="506" y="402.8" width="3" height="0.7" fill="#008080" shape-rendering="crispEdges"/>
<rect x="510" y="403.3" width="3" height="1.0" fill="#008080" shape-rendering="crispEdges"/>
<rect x="514" y="402.6" width="3" height="0.9" fill="#008080" shape-rendering="crispEdges"/>
<rect x="518" y="402.3" width="3" height="1.2" fill="#008080" shape-rendering="crispEdges"/>
<rect x="522" y="401.1" width="3" height="2.4" fill="#008080" shape-rendering="crispEdges"/>
<rect x="526" y="402.1" width="3" height="1.4" fill="#008080" shape-rendering="crispEdges"/>
<rect x="530" y="403.5" width="3" height="1.4" fill="#008080" shape-rendering="crispEdges"/>
<rect x="534" y="403.5" width="3" height="4.8" fill="#008080" shape-rendering="crispEdges"/>
<rect x="538" y="403.5" width="3" height="9.0" fill="#008080" shape-rendering="crispEdges"/>
<rect x="542" y="403.5" width="3" height="10.4" fill="#008080" shape-rendering="crispEdges"/>
<rect x="546" y="403.5" width="3" height="10.7" fill="#008080" shape-rendering="crispEdges"/>
<rect x="550" y="403.5" width="3" height="11.5" fill="#008080" shape-rendering="crispEdges"/>
<rect x="554" y="403.5" width="3" height="11.2" fill="#008080" shape-rendering="crispEdges"/>
<rect x="558" y="403.5" width="3" height="8.6" fill="#008080" shape-rendering="crispEdges"/>
<rect x="562" y="403.5" width="3" height="3.2" fill="#008080" shape-rendering="crispEdges"/>
<rect x="566" y="403.3" width="3" height="1.0" fill="#008080" shape-rendering="crispEdges"/>
<rect x="570" y="400.3" width="3" height="3.2" fill="#008080" shape-rendering="crispEdges"/>
<rect x="574" y="398.6" width="3" height="4.9" fill="#008080" shape-rendering="crispEdges"/>
<rect x="578" y="397.4" width="3" height="6.1" fill="#008080" shape-rendering="crispEdges"/>
<polyline points="3.5,405.5 7.5,403.1 11.5,401.0 15.5,399.2 19.5,397.8 23.5,396.9 27.5,397.0 31.5,397.2 35.5,397.4 39.5,397.5 43.5,397.5 47.5,397.0 51.5,397.1 55.5,397.3 59.5,398.8 63.5,401.1 67.5,404.1 71.5,406.8 75.5,409.5 79.5,410.8 83.5,410.9 87.5,410.1 91.5,408.6 95.5,406.9 99.5,405.6 103.5,404.0 107.5,402.2 111.5,400.5 115.5,398.8 119.5,397.3 123.5,396.7 127.5,395.6 131.5,394.1 135.5,392.5 139.5,390.2 143.5,387.7 147.5,386.5 151.5,386.2 155.5,386.1 159.5,386.8 163.5,387.7 167.5,388.2 171.5,389.1 175.5,390.3 179.5,391.2 183.5,392.5 187.5,394.2 191.5,395.5 195.5,396.3 199.5,397.4 203.5,398.2 207.5,398.7 211.5,399.2 215.5,400.2 219.5,400.4 223.5,398.8 227.5,396.2 231.5,393.4 235.5,390.0 239.5,387.3 243.5,386.4 247.5,387.0 251.5,387.9 255.5,389.4 259.5,390.8 263.5,392.3 267.5,392.4 271.5,391.9 275.5,390.6 279.5,388.2 283.5,384.7 287.5,381.5 291.5,378.9 295.5,377.1 299.5,376.9 303.5,378.3 307.5,380.0 311.5,381.9 315.5,383.9 319.5,384.9 323.5,385.1 327.5,385.5 331.5,385.3 335.5,384.6 339.5,383.8 343.5,383.0 347.5,381.6 351.5,380.1 355.5,378.5 359.5,377.5 363.5,378.0 367.5,380.3 371.5,383.1 375.5,386.3 379.5,389.4 383.5,391.0 387.5,391.6 391.5,392.6 395.5,394.2 399.5,396.8 403.5,400.4 407.5,403.9 411.5,407.5 415.5,410.5 419.5,413.0 423.5,415.2 427.5,417.3 431.5,418.4 435.5,419.0 439.5,418.5 443.5,417.7 447.5,416.9 451.5,415.9 455.5,415.3 459.5,414.4 463.5,413.2 467.5,412.1 471.5,411.2 475.5,410.4 479.5,409.8 483.5,409.1 487.5,408.1 491.5,407.2 495.5,406.5 499.5,405.8 503.5,405.2 507.5,404.6 511.5,404.0 515.5,403.3 519.5,402.8 523.5,402.4 527.5,402.3 531.5,402.6 535.5,403.7 539.5,405.8 543.5,408.3 547.5,410.8 551.5,412.8 555.5,414.1 559.5,414.0 563.5,412.6 567.5,410.4 571.5,407.4 575.5,404.2 579.5,401.3" fill="none" stroke="#dc143c" stroke-width="2" stroke-linejoin="round" shape-rendering="crispEdges"/>
</g>
<g clip-path="url(#c3)">
<line x1="3" y1="440.5" x2="730" y2="440.5" stroke="#006400" stroke-width="1" stroke-dasharray="3,3" shape-rendering="crispEdges"/>
<line x1="3" y1="459.5" x2="730" y2="459.5" stroke="#006400" stroke-width="1" stroke-dasharray="3,3" shape-rendering="crispEdges"/>
<polyline points="3.5,448.2 7.5,444.1 11.5,446.6 15.5,446.1 19.5,445.6 23.5,446.4 27.5,448.5 31.5,447.1 35.5,446.5 39.5,445.6 43.5,445.2 47.5,445.7 51.5,449.9 55.5,447.7 59.5,453.8 63.5,454.1 67.5,455.1 71.5,453.9 75.5,453.5 79.5,450.6 83.5,449.3 87.5,450.0 91.5,448.3 95.5,448.7 99.5,449.2 103.5,445.0 107.5,444.9 111.5,444.7 115.5,444.5 119.5,446.6 123.5,447.8 127.5,441.2 131.5,440.7 135.5,441.6 139.5,439.9 143.5,441.9 147.5,445.1 151.5,443.9 155.5,443.4 159.5,444.6 163.5,444.1 167.5,443.8 171.5,448.2 175.5,446.5 179.5,445.8 183.5,448.8 187.5,450.2 191.5,449.2 195.5,446.1 199.5,449.8 203.5,449.3 207.5,449.4 211.5,450.3 215.5,451.4 219.5,445.9 223.5,440.5 227.5,441.9 231.5,444.1 235.5,443.2 239.5,444.5 243.5,444.5 247.5,448.3 251.5,446.9 255.5,447.6 259.5,446.9 263.5,447.2 267.5,443.3 271.5,442.7 275.5,442.0 279.5,438.8 283.5,437.8 287.5,439.9 291.5,440.4 295.5,442.6 299.5,444.7 303.5,445.1 307.5,443.8 311.5,444.7 315.5,446.4 319.5,442.7 323.5,442.5 327.5,445.0 331.5,442.9 335.5,443.0 339.5,440.8 343.5,441.0 347.5,439.5 351.5,439.1 355.5,439.0 359.5,439.0 363.5,448.8 367.5,451.3 371.5,447.4 375.5,448.3 379.5,446.9 383.5,446.0 387.5,448.6 391.5,450.2 395.5,452.6 399.5,454.6 403.5,455.3 407.5,453.6 411.5,456.3 415.5,454.1 419.5,456.5 423.5,456.6 427.5,456.6 431.5,454.9 435.5,452.9 439.5,452.9 443.5,454.5 447.5,455.4 451.5,452.5 455.5,452.9 459.5,450.4 463.5,450.7 467.5,453.1 471.5,452.1 475.5,451.3 479.5,450.3 483.5,448.4 487.5,450.1 491.5,450.9 495.5,451.1 499.5,448.1 503.5,447.8 507.5,448.7 511.5,450.0 515.5,448.2 519.5,448.4 523.5,446.8 527.5,449.9 531.5,453.2 535.5,455.3 539.5,457.6 543.5,455.5 547.5,454.8 551.5,455.8 555.5,454.6 559.5,450.8 563.5,446.0 567.5,446.2 571.5,445.2 575.5,445.3 579.5,445.1" fill="none" stroke="#008080" stroke-width="2" stroke-linejoin="round" shape-rendering="crispEdges"/>
</g>
<g shape-rendering="crispEdges" stroke="#000" stroke-width="1" fill="none">
<path d="M2.5,2.5 H730.5"/>
<path d="M2.5,2.5 V473.5"/>
<path d="M730.5,2.5 V473.5"/>
<path d="M2.5,369.5 H730.5"/><path d="M2.5,371.5 H730.5"/>
<path d="M2.5,422.5 H730.5"/><path d="M2.5,424.5 H730.5"/>
<path d="M2.5,473.5 H730.5"/>
</g>
<rect x="731" y="36" width="2" height="1" fill="#000" shape-rendering="crispEdges"/>
<rect x="731" y="69" width="2" height="1" fill="#000" shape-rendering="crispEdges"/>
<rect x="731" y="102" width="2" height="1" fill="#000" shape-rendering="crispEdges"/>
<rect x="731" y="135" width="2" height="1" fill="#000" shape-rendering="crispEdges"/>
<rect x="731" y="168" width="2" height="1" fill="#000" shape-rendering="crispEdges"/>
<rect x="731" y="201" width="2" height="1" fill="#000" shape-rendering="crispEdges"/>
<rect x="731" y="234" width="2" height="1" fill="#000" shape-rendering="crispEdges"/>
<rect x="731" y="267" width="2" height="1" fill="#000" shape-rendering="crispEdges"/>
<rect x="731" y="300" width="2" height="1" fill="#000" shape-rendering="crispEdges"/>
<rect x="731" y="333" width="2" height="1" fill="#000" shape-rendering="crispEdges"/>
<rect x="731" y="366" width="2" height="1" fill="#000" shape-rendering="crispEdges"/>
<rect x="732" y="123" width="41" height="11" fill="#000" shape-rendering="crispEdges"/>
<rect x="3" y="474" width="1" height="4" fill="#000" shape-rendering="crispEdges"/>
<rect x="67" y="474" width="1" height="4" fill="#000" shape-rendering="crispEdges"/>
<rect x="131" y="474" width="1" height="4" fill="#000" shape-rendering="crispEdges"/>
<rect x="195" y="474" width="1" height="4" fill="#000" shape-rendering="crispEdges"/>
<rect x="259" y="474" width="1" height="4" fill="#000" shape-rendering="crispEdges"/>
<rect x="323" y="474" width="1" height="4" fill="#000" shape-rendering="crispEdges"/>
<rect x="387" y="474" width="1" height="4" fill="#000" shape-rendering="crispEdges"/>
<rect x="451" y="474" width="1" height="4" fill="#000" shape-rendering="crispEdges"/>
<rect x="515" y="474" width="1" height="4" fill="#000" shape-rendering="crispEdges"/>
<rect x="579" y="474" width="1" height="4" fill="#000" shape-rendering="crispEdges"/>
<text x="17.79" y="13.4" font-size="9.1" fill="#000" textLength="54.05" lengthAdjust="spacingAndGlyphs">GBPUSD,H4</text>
<text x="77.85" y="13.4" font-size="9.1" fill="#000" textLength="33.04" lengthAdjust="spacingAndGlyphs">1.40945</text>
<text x="113.83" y="13.4" font-size="9.1" fill="#000" textLength="33.09" lengthAdjust="spacingAndGlyphs">1.41174</text>
<text x="149.84" y="13.4" font-size="9.1" fill="#000" textLength="33.25" lengthAdjust="spacingAndGlyphs">1.40888</text>
<text x="185.74" y="13.4" font-size="9.1" fill="#000" textLength="33.25" lengthAdjust="spacingAndGlyphs">1.40970</text>
<text x="6.91" y="383.8" font-size="9.1" fill="#000" textLength="61.47" lengthAdjust="spacingAndGlyphs">MACD(5,35,5)</text>
<text x="70.75" y="383.8" font-size="9.1" fill="#000" textLength="38.41" lengthAdjust="spacingAndGlyphs">0.002379</text>
<text x="112.15" y="383.8" font-size="9.1" fill="#000" textLength="37.80" lengthAdjust="spacingAndGlyphs">0.000681</text>
<text x="6.92" y="436.6" font-size="9.1" fill="#000" textLength="32.39" lengthAdjust="spacingAndGlyphs">RSI(14)</text>
<text x="41.49" y="436.6" font-size="9.1" fill="#000" textLength="33.40" lengthAdjust="spacingAndGlyphs">59.9975</text>
<text x="735.64" y="39.7" font-size="9.1" fill="#000" textLength="33.46" lengthAdjust="spacingAndGlyphs">1.42220</text>
<text x="735.64" y="72.7" font-size="9.1" fill="#000" textLength="33.46" lengthAdjust="spacingAndGlyphs">1.41770</text>
<text x="735.64" y="105.7" font-size="9.1" fill="#000" textLength="33.46" lengthAdjust="spacingAndGlyphs">1.41320</text>
<text x="735.64" y="138.7" font-size="9.1" fill="#000" textLength="33.46" lengthAdjust="spacingAndGlyphs">1.40870</text>
<text x="735.64" y="171.7" font-size="9.1" fill="#000" textLength="33.46" lengthAdjust="spacingAndGlyphs">1.40420</text>
<text x="735.64" y="204.7" font-size="9.1" fill="#000" textLength="33.46" lengthAdjust="spacingAndGlyphs">1.39970</text>
<text x="735.64" y="237.7" font-size="9.1" fill="#000" textLength="33.46" lengthAdjust="spacingAndGlyphs">1.39520</text>
<text x="735.64" y="270.7" font-size="9.1" fill="#000" textLength="33.46" lengthAdjust="spacingAndGlyphs">1.39070</text>
<text x="735.64" y="303.7" font-size="9.1" fill="#000" textLength="33.46" lengthAdjust="spacingAndGlyphs">1.38620</text>
<text x="735.64" y="336.7" font-size="9.1" fill="#000" textLength="33.46" lengthAdjust="spacingAndGlyphs">1.38170</text>
<text x="735.64" y="369.7" font-size="9.1" fill="#000" textLength="33.46" lengthAdjust="spacingAndGlyphs">1.37720</text>
<text x="735.64" y="131.6" font-size="9.1" fill="#fff" textLength="33.46" lengthAdjust="spacingAndGlyphs">1.40970</text>
<text x="733.55" y="381.7" font-size="9.1" fill="#000" textLength="32.31" lengthAdjust="spacingAndGlyphs">0.01191</text>
<text x="733.55" y="406.4" font-size="9.1" fill="#000" textLength="17.50" lengthAdjust="spacingAndGlyphs">0.00</text>
<text x="732.69" y="418.4" font-size="9.1" fill="#000" textLength="41.49" lengthAdjust="spacingAndGlyphs">-0.007098</text>
<text x="734.27" y="406.4" font-size="9.1" fill="#000" textLength="4.73" lengthAdjust="spacingAndGlyphs">0</text>
<text x="733.27" y="434.8" font-size="9.1" fill="#000" textLength="14.85" lengthAdjust="spacingAndGlyphs">100</text>
<text x="733.34" y="443.8" font-size="9.1" fill="#000" textLength="9.30" lengthAdjust="spacingAndGlyphs">70</text>
<text x="733.34" y="462.7" font-size="9.1" fill="#000" textLength="9.30" lengthAdjust="spacingAndGlyphs">30</text>
<text x="733.57" y="470.4" font-size="9.1" fill="#000" textLength="4.73" lengthAdjust="spacingAndGlyphs">0</text>
<text x="2.09" y="486.7" font-size="9.1" fill="#000" textLength="47.15" lengthAdjust="spacingAndGlyphs">6 Mar 2018</text>
<text x="65.89" y="486.7" font-size="9.1" fill="#000" textLength="49.92" lengthAdjust="spacingAndGlyphs">9 Mar 00:00</text>
<text x="130.23" y="486.7" font-size="9.1" fill="#000" textLength="55.04" lengthAdjust="spacingAndGlyphs">13 Mar 16:00</text>
<text x="193.93" y="486.7" font-size="9.1" fill="#000" textLength="55.24" lengthAdjust="spacingAndGlyphs">16 Mar 08:00</text>
<text x="257.99" y="486.7" font-size="9.1" fill="#000" textLength="55.08" lengthAdjust="spacingAndGlyphs">21 Mar 00:00</text>
<text x="321.99" y="486.7" font-size="9.1" fill="#000" textLength="54.98" lengthAdjust="spacingAndGlyphs">23 Mar 16:00</text>
<text x="385.99" y="486.7" font-size="9.1" fill="#000" textLength="54.98" lengthAdjust="spacingAndGlyphs">28 Mar 08:00</text>
<text x="450.07" y="486.7" font-size="9.1" fill="#000" textLength="48.93" lengthAdjust="spacingAndGlyphs">2 Apr 00:00</text>
<text x="514.44" y="486.7" font-size="9.1" fill="#000" textLength="48.66" lengthAdjust="spacingAndGlyphs">4 Apr 16:00</text>
<text x="578.48" y="486.7" font-size="9.1" fill="#000" textLength="48.83" lengthAdjust="spacingAndGlyphs">9 Apr 08:00</text>
<path d="M6,9h7v1h-1v1h-1v1h-1v1h-1v-1h-1v-1h-1v-1h-1z" fill="#000" shape-rendering="crispEdges"/>
</svg></body></html>
